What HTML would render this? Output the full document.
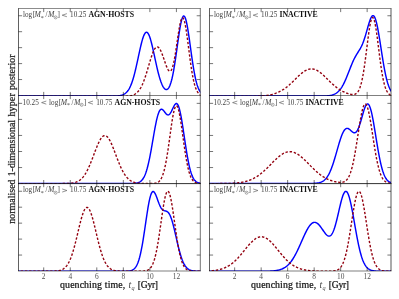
<!DOCTYPE html>
<html><head><meta charset="utf-8"><title>quenching time posterior</title>
<style>
html,body{margin:0;padding:0;background:#fff;}
body{width:399px;height:299px;overflow:hidden;position:relative;font-family:"Liberation Serif",serif;}
</style></head><body>
<svg width="399" height="299" viewBox="0 0 399 299" style="position:absolute;left:0;top:0;will-change:transform;opacity:0.999">
<defs>
<clipPath id="c00"><rect x="18.5" y="8.5" width="181.80" height="87.50"/></clipPath>
<clipPath id="c01"><rect x="209.5" y="8.5" width="181.50" height="87.50"/></clipPath>
<clipPath id="c10"><rect x="18.5" y="95.5" width="181.80" height="88.10"/></clipPath>
<clipPath id="c11"><rect x="209.5" y="95.5" width="181.50" height="88.10"/></clipPath>
<clipPath id="c20"><rect x="18.5" y="183.6" width="181.80" height="87.40"/></clipPath>
<clipPath id="c21"><rect x="209.5" y="183.6" width="181.50" height="87.40"/></clipPath>
</defs>
<g clip-path="url(#c00)" fill="none" stroke-linejoin="round">
<path d="M16.5,96.05 L17.0,96.05 L17.5,96.05 L18.0,96.05 L18.5,96.05 L19.0,96.05 L19.5,96.05 L20.0,96.05 L20.5,96.05 L21.0,96.05 L21.5,96.05 L22.0,96.05 L22.5,96.05 L23.0,96.05 L23.5,96.05 L24.0,96.05 L24.5,96.05 L25.0,96.05 L25.5,96.05 L26.0,96.05 L26.5,96.05 L27.0,96.05 L27.5,96.05 L28.0,96.05 L28.5,96.05 L29.0,96.05 L29.5,96.05 L30.0,96.05 L30.5,96.05 L31.0,96.05 L31.5,96.05 L32.0,96.05 L32.5,96.05 L33.0,96.05 L33.5,96.05 L34.0,96.05 L34.5,96.05 L35.0,96.05 L35.5,96.05 L36.0,96.05 L36.5,96.05 L37.0,96.05 L37.5,96.05 L38.0,96.05 L38.5,96.05 L39.0,96.05 L39.5,96.05 L40.0,96.05 L40.5,96.05 L41.0,96.05 L41.5,96.05 L42.0,96.05 L42.5,96.05 L43.0,96.05 L43.5,96.05 L44.0,96.05 L44.5,96.05 L45.0,96.05 L45.5,96.05 L46.0,96.05 L46.5,96.05 L47.0,96.05 L47.5,96.05 L48.0,96.05 L48.5,96.05 L49.0,96.05 L49.5,96.05 L50.0,96.05 L50.5,96.05 L51.0,96.05 L51.5,96.05 L52.0,96.05 L52.5,96.05 L53.0,96.05 L53.5,96.05 L54.0,96.05 L54.5,96.05 L55.0,96.05 L55.5,96.05 L56.0,96.05 L56.5,96.05 L57.0,96.05 L57.5,96.05 L58.0,96.05 L58.5,96.05 L59.0,96.05 L59.5,96.05 L60.0,96.05 L60.5,96.05 L61.0,96.05 L61.5,96.05 L62.0,96.05 L62.5,96.05 L63.0,96.05 L63.5,96.05 L64.0,96.05 L64.5,96.05 L65.0,96.05 L65.5,96.05 L66.0,96.05 L66.5,96.05 L67.0,96.05 L67.5,96.05 L68.0,96.05 L68.5,96.05 L69.0,96.05 L69.5,96.05 L70.0,96.05 L70.5,96.05 L71.0,96.05 L71.5,96.05 L72.0,96.05 L72.5,96.05 L73.0,96.05 L73.5,96.05 L74.0,96.05 L74.5,96.05 L75.0,96.05 L75.5,96.05 L76.0,96.05 L76.5,96.05 L77.0,96.05 L77.5,96.05 L78.0,96.05 L78.5,96.05 L79.0,96.05 L79.5,96.05 L80.0,96.05 L80.5,96.05 L81.0,96.05 L81.5,96.05 L82.0,96.05 L82.5,96.05 L83.0,96.05 L83.5,96.05 L84.0,96.05 L84.5,96.05 L85.0,96.05 L85.5,96.05 L86.0,96.05 L86.5,96.05 L87.0,96.05 L87.5,96.05 L88.0,96.05 L88.5,96.05 L89.0,96.05 L89.5,96.05 L90.0,96.05 L90.5,96.05 L91.0,96.05 L91.5,96.05 L92.0,96.05 L92.5,96.05 L93.0,96.05 L93.5,96.05 L94.0,96.05 L94.5,96.05 L95.0,96.05 L95.5,96.05 L96.0,96.05 L96.5,96.05 L97.0,96.05 L97.5,96.05 L98.0,96.05 L98.5,96.05 L99.0,96.05 L99.5,96.05 L100.0,96.05 L100.5,96.05 L101.0,96.05 L101.5,96.05 L102.0,96.05 L102.5,96.05 L103.0,96.05 L103.5,96.05 L104.0,96.05 L104.5,96.05 L105.0,96.05 L105.5,96.05 L106.0,96.05 L106.5,96.05 L107.0,96.05 L107.5,96.05 L108.0,96.05 L108.5,96.05 L109.0,96.05 L109.5,96.05 L110.0,96.05 L110.5,96.04 L111.0,96.04 L111.5,96.04 L112.0,96.04 L112.5,96.03 L113.0,96.03 L113.5,96.02 L114.0,96.02 L114.5,96.01 L115.0,96.00 L115.5,95.98 L116.0,95.96 L116.5,95.94 L117.0,95.92 L117.5,95.89 L118.0,95.85 L118.5,95.80 L119.0,95.74 L119.5,95.68 L120.0,95.60 L120.5,95.50 L121.0,95.39 L121.5,95.26 L122.0,95.11 L122.5,94.93 L123.0,94.73 L123.5,94.50 L124.0,94.24 L124.5,93.94 L125.0,93.61 L125.5,93.23 L126.0,92.81 L126.5,92.33 L127.0,91.80 L127.5,91.21 L128.0,90.56 L128.5,89.83 L129.0,89.02 L129.5,88.13 L130.0,87.15 L130.5,86.07 L131.0,84.90 L131.5,83.63 L132.0,82.25 L132.5,80.77 L133.0,79.19 L133.5,77.50 L134.0,75.71 L134.5,73.82 L135.0,71.84 L135.5,69.77 L136.0,67.63 L136.5,65.43 L137.0,63.17 L137.5,60.86 L138.0,58.53 L138.5,56.20 L139.0,53.86 L139.5,51.56 L140.0,49.30 L140.5,47.10 L141.0,44.98 L141.5,42.97 L142.0,41.08 L142.5,39.34 L143.0,37.75 L143.5,36.34 L144.0,35.11 L144.5,34.09 L145.0,33.29 L145.5,32.71 L146.0,32.36 L146.5,32.24 L147.0,32.36 L147.5,32.71 L148.0,33.29 L148.5,34.09 L149.0,35.11 L149.5,36.34 L150.0,37.75 L150.5,39.34 L151.0,41.08 L151.5,42.97 L152.0,44.98 L152.5,47.10 L153.0,49.29 L153.5,51.55 L154.0,53.86 L154.5,56.19 L155.0,58.53 L155.5,60.85 L156.0,63.15 L156.5,65.41 L157.0,67.61 L157.5,69.74 L158.0,71.80 L158.5,73.76 L159.0,75.63 L159.5,77.40 L160.0,79.05 L160.5,80.60 L161.0,82.03 L161.5,83.34 L162.0,84.53 L162.5,85.60 L163.0,86.55 L163.5,87.37 L164.0,88.07 L164.5,88.64 L165.0,89.08 L165.5,89.39 L166.0,89.56 L166.5,89.58 L167.0,89.46 L167.5,89.18 L168.0,88.75 L168.5,88.14 L169.0,87.36 L169.5,86.39 L170.0,85.23 L170.5,83.87 L171.0,82.30 L171.5,80.52 L172.0,78.53 L172.5,76.32 L173.0,73.90 L173.5,71.26 L174.0,68.43 L174.5,65.41 L175.0,62.23 L175.5,58.89 L176.0,55.44 L176.5,51.90 L177.0,48.31 L177.5,44.70 L178.0,41.11 L178.5,37.60 L179.0,34.21 L179.5,30.98 L180.0,27.96 L180.5,25.20 L181.0,22.73 L181.5,20.61 L182.0,18.85 L182.5,17.50 L183.0,16.57 L183.5,16.08 L184.0,16.03 L184.5,16.44 L185.0,17.28 L185.5,18.55 L186.0,20.23 L186.5,22.29 L187.0,24.69 L187.5,27.40 L188.0,30.37 L188.5,33.57 L189.0,36.94 L189.5,40.44 L190.0,44.02 L190.5,47.64 L191.0,51.26 L191.5,54.83 L192.0,58.33 L192.5,61.72 L193.0,64.97 L193.5,68.06 L194.0,70.98 L194.5,73.71 L195.0,76.25 L195.5,78.59 L196.0,80.73 L196.5,82.67 L197.0,84.41 L197.5,85.98 L198.0,87.37 L198.5,88.60 L199.0,89.68 L199.5,90.62 L200.0,91.45 L200.5,92.16 L201.0,92.78 L201.5,93.32 L202.0,93.78" stroke="#0000ff" stroke-width="1.45"/>
<path d="M16.5,96.45 L17.0,96.45 L17.5,96.45 L18.0,96.45 L18.5,96.45 L19.0,96.45 L19.5,96.45 L20.0,96.45 L20.5,96.45 L21.0,96.45 L21.5,96.45 L22.0,96.45 L22.5,96.45 L23.0,96.45 L23.5,96.45 L24.0,96.45 L24.5,96.45 L25.0,96.45 L25.5,96.45 L26.0,96.45 L26.5,96.45 L27.0,96.45 L27.5,96.45 L28.0,96.45 L28.5,96.45 L29.0,96.45 L29.5,96.45 L30.0,96.45 L30.5,96.45 L31.0,96.45 L31.5,96.45 L32.0,96.45 L32.5,96.45 L33.0,96.45 L33.5,96.45 L34.0,96.45 L34.5,96.45 L35.0,96.45 L35.5,96.45 L36.0,96.45 L36.5,96.45 L37.0,96.45 L37.5,96.45 L38.0,96.45 L38.5,96.45 L39.0,96.45 L39.5,96.45 L40.0,96.45 L40.5,96.45 L41.0,96.45 L41.5,96.45 L42.0,96.45 L42.5,96.45 L43.0,96.45 L43.5,96.45 L44.0,96.45 L44.5,96.45 L45.0,96.45 L45.5,96.45 L46.0,96.45 L46.5,96.45 L47.0,96.45 L47.5,96.45 L48.0,96.45 L48.5,96.45 L49.0,96.45 L49.5,96.45 L50.0,96.45 L50.5,96.45 L51.0,96.45 L51.5,96.45 L52.0,96.45 L52.5,96.45 L53.0,96.45 L53.5,96.45 L54.0,96.45 L54.5,96.45 L55.0,96.45 L55.5,96.45 L56.0,96.45 L56.5,96.45 L57.0,96.45 L57.5,96.45 L58.0,96.45 L58.5,96.45 L59.0,96.45 L59.5,96.45 L60.0,96.45 L60.5,96.45 L61.0,96.45 L61.5,96.45 L62.0,96.45 L62.5,96.45 L63.0,96.45 L63.5,96.45 L64.0,96.45 L64.5,96.45 L65.0,96.45 L65.5,96.45 L66.0,96.45 L66.5,96.45 L67.0,96.45 L67.5,96.45 L68.0,96.45 L68.5,96.45 L69.0,96.45 L69.5,96.45 L70.0,96.45 L70.5,96.45 L71.0,96.45 L71.5,96.45 L72.0,96.45 L72.5,96.45 L73.0,96.45 L73.5,96.45 L74.0,96.45 L74.5,96.45 L75.0,96.45 L75.5,96.45 L76.0,96.45 L76.5,96.45 L77.0,96.45 L77.5,96.45 L78.0,96.45 L78.5,96.45 L79.0,96.45 L79.5,96.45 L80.0,96.45 L80.5,96.45 L81.0,96.45 L81.5,96.45 L82.0,96.45 L82.5,96.45 L83.0,96.45 L83.5,96.45 L84.0,96.45 L84.5,96.45 L85.0,96.45 L85.5,96.45 L86.0,96.45 L86.5,96.45 L87.0,96.45 L87.5,96.45 L88.0,96.45 L88.5,96.45 L89.0,96.45 L89.5,96.45 L90.0,96.45 L90.5,96.45 L91.0,96.45 L91.5,96.45 L92.0,96.45 L92.5,96.45 L93.0,96.45 L93.5,96.45 L94.0,96.45 L94.5,96.45 L95.0,96.45 L95.5,96.45 L96.0,96.45 L96.5,96.45 L97.0,96.45 L97.5,96.45 L98.0,96.45 L98.5,96.45 L99.0,96.45 L99.5,96.45 L100.0,96.45 L100.5,96.45 L101.0,96.45 L101.5,96.45 L102.0,96.45 L102.5,96.45 L103.0,96.45 L103.5,96.45 L104.0,96.45 L104.5,96.45 L105.0,96.45 L105.5,96.45 L106.0,96.45 L106.5,96.45 L107.0,96.45 L107.5,96.45 L108.0,96.45 L108.5,96.45 L109.0,96.45 L109.5,96.45 L110.0,96.45 L110.5,96.45 L111.0,96.45 L111.5,96.45 L112.0,96.45 L112.5,96.45 L113.0,96.45 L113.5,96.45 L114.0,96.45 L114.5,96.45 L115.0,96.45 L115.5,96.45 L116.0,96.45 L116.5,96.45 L117.0,96.45 L117.5,96.45 L118.0,96.45 L118.5,96.45 L119.0,96.45 L119.5,96.44 L120.0,96.44 L120.5,96.44 L121.0,96.44 L121.5,96.44 L122.0,96.43 L122.5,96.43 L123.0,96.42 L123.5,96.41 L124.0,96.40 L124.5,96.39 L125.0,96.38 L125.5,96.36 L126.0,96.34 L126.5,96.32 L127.0,96.29 L127.5,96.25 L128.0,96.21 L128.5,96.15 L129.0,96.09 L129.5,96.02 L130.0,95.94 L130.5,95.84 L131.0,95.73 L131.5,95.60 L132.0,95.45 L132.5,95.28 L133.0,95.08 L133.5,94.87 L134.0,94.63 L134.5,94.36 L135.0,94.06 L135.5,93.73 L136.0,93.37 L136.5,92.98 L137.0,92.54 L137.5,92.06 L138.0,91.54 L138.5,90.97 L139.0,90.35 L139.5,89.67 L140.0,88.93 L140.5,88.13 L141.0,87.26 L141.5,86.32 L142.0,85.30 L142.5,84.22 L143.0,83.06 L143.5,81.83 L144.0,80.53 L144.5,79.16 L145.0,77.72 L145.5,76.23 L146.0,74.68 L146.5,73.08 L147.0,71.44 L147.5,69.76 L148.0,68.06 L148.5,66.35 L149.0,64.64 L149.5,62.93 L150.0,61.25 L150.5,59.60 L151.0,58.00 L151.5,56.47 L152.0,55.00 L152.5,53.62 L153.0,52.34 L153.5,51.17 L154.0,50.13 L154.5,49.21 L155.0,48.44 L155.5,47.82 L156.0,47.34 L156.5,47.03 L157.0,46.88 L157.5,46.90 L158.0,47.07 L158.5,47.41 L159.0,47.90 L159.5,48.54 L160.0,49.33 L160.5,50.25 L161.0,51.29 L161.5,52.44 L162.0,53.69 L162.5,55.02 L163.0,56.42 L163.5,57.86 L164.0,59.33 L164.5,60.81 L165.0,62.28 L165.5,63.71 L166.0,65.09 L166.5,66.39 L167.0,67.58 L167.5,68.65 L168.0,69.56 L168.5,70.30 L169.0,70.84 L169.5,71.15 L170.0,71.22 L170.5,71.03 L171.0,70.55 L171.5,69.78 L172.0,68.70 L172.5,67.31 L173.0,65.61 L173.5,63.61 L174.0,61.31 L174.5,58.73 L175.0,55.91 L175.5,52.87 L176.0,49.66 L176.5,46.32 L177.0,42.91 L177.5,39.48 L178.0,36.09 L178.5,32.82 L179.0,29.72 L179.5,26.85 L180.0,24.29 L180.5,22.09 L181.0,20.29 L181.5,18.94 L182.0,18.07 L182.5,17.71 L183.0,17.86 L183.5,18.54 L184.0,19.72 L184.5,21.39 L185.0,23.51 L185.5,26.05 L186.0,28.96 L186.5,32.19 L187.0,35.67 L187.5,39.35 L188.0,43.16 L188.5,47.05 L189.0,50.97 L189.5,54.84 L190.0,58.64 L190.5,62.31 L191.0,65.83 L191.5,69.15 L192.0,72.26 L192.5,75.15 L193.0,77.80 L193.5,80.22 L194.0,82.39 L194.5,84.34 L195.0,86.06 L195.5,87.57 L196.0,88.89 L196.5,90.04 L197.0,91.04 L197.5,91.90 L198.0,92.64 L198.5,93.28 L199.0,93.84 L199.5,94.31 L200.0,94.72 L200.5,95.06 L201.0,95.34 L201.5,95.58 L202.0,95.77" stroke="#93000f" stroke-width="1.4" stroke-dasharray="2.4 1.8"/>
</g>
<g clip-path="url(#c01)" fill="none" stroke-linejoin="round">
<path d="M207.5,96.05 L208.0,96.05 L208.5,96.05 L209.0,96.05 L209.5,96.05 L210.0,96.05 L210.5,96.05 L211.0,96.05 L211.5,96.05 L212.0,96.05 L212.5,96.05 L213.0,96.05 L213.5,96.05 L214.0,96.05 L214.5,96.05 L215.0,96.05 L215.5,96.05 L216.0,96.05 L216.5,96.05 L217.0,96.05 L217.5,96.05 L218.0,96.05 L218.5,96.05 L219.0,96.05 L219.5,96.05 L220.0,96.05 L220.5,96.05 L221.0,96.05 L221.5,96.05 L222.0,96.05 L222.5,96.05 L223.0,96.05 L223.5,96.05 L224.0,96.05 L224.5,96.05 L225.0,96.05 L225.5,96.05 L226.0,96.05 L226.5,96.05 L227.0,96.05 L227.5,96.05 L228.0,96.05 L228.5,96.05 L229.0,96.05 L229.5,96.05 L230.0,96.05 L230.5,96.05 L231.0,96.05 L231.5,96.05 L232.0,96.05 L232.5,96.05 L233.0,96.05 L233.5,96.05 L234.0,96.05 L234.5,96.05 L235.0,96.05 L235.5,96.05 L236.0,96.05 L236.5,96.05 L237.0,96.05 L237.5,96.05 L238.0,96.05 L238.5,96.05 L239.0,96.05 L239.5,96.05 L240.0,96.05 L240.5,96.05 L241.0,96.05 L241.5,96.05 L242.0,96.05 L242.5,96.05 L243.0,96.05 L243.5,96.05 L244.0,96.05 L244.5,96.05 L245.0,96.05 L245.5,96.05 L246.0,96.05 L246.5,96.05 L247.0,96.05 L247.5,96.05 L248.0,96.05 L248.5,96.05 L249.0,96.05 L249.5,96.05 L250.0,96.05 L250.5,96.05 L251.0,96.05 L251.5,96.05 L252.0,96.05 L252.5,96.05 L253.0,96.05 L253.5,96.05 L254.0,96.05 L254.5,96.05 L255.0,96.05 L255.5,96.05 L256.0,96.05 L256.5,96.05 L257.0,96.05 L257.5,96.05 L258.0,96.05 L258.5,96.05 L259.0,96.05 L259.5,96.05 L260.0,96.05 L260.5,96.05 L261.0,96.05 L261.5,96.05 L262.0,96.05 L262.5,96.05 L263.0,96.05 L263.5,96.05 L264.0,96.05 L264.5,96.05 L265.0,96.05 L265.5,96.05 L266.0,96.05 L266.5,96.05 L267.0,96.05 L267.5,96.05 L268.0,96.05 L268.5,96.05 L269.0,96.05 L269.5,96.05 L270.0,96.05 L270.5,96.05 L271.0,96.05 L271.5,96.05 L272.0,96.05 L272.5,96.05 L273.0,96.05 L273.5,96.05 L274.0,96.05 L274.5,96.05 L275.0,96.05 L275.5,96.05 L276.0,96.05 L276.5,96.05 L277.0,96.05 L277.5,96.05 L278.0,96.05 L278.5,96.05 L279.0,96.05 L279.5,96.05 L280.0,96.05 L280.5,96.05 L281.0,96.05 L281.5,96.05 L282.0,96.05 L282.5,96.05 L283.0,96.05 L283.5,96.05 L284.0,96.05 L284.5,96.05 L285.0,96.05 L285.5,96.05 L286.0,96.05 L286.5,96.05 L287.0,96.05 L287.5,96.05 L288.0,96.05 L288.5,96.05 L289.0,96.05 L289.5,96.05 L290.0,96.05 L290.5,96.05 L291.0,96.05 L291.5,96.05 L292.0,96.05 L292.5,96.05 L293.0,96.05 L293.5,96.05 L294.0,96.05 L294.5,96.05 L295.0,96.05 L295.5,96.05 L296.0,96.05 L296.5,96.05 L297.0,96.05 L297.5,96.05 L298.0,96.05 L298.5,96.05 L299.0,96.05 L299.5,96.05 L300.0,96.05 L300.5,96.05 L301.0,96.05 L301.5,96.05 L302.0,96.05 L302.5,96.05 L303.0,96.05 L303.5,96.05 L304.0,96.05 L304.5,96.05 L305.0,96.05 L305.5,96.05 L306.0,96.05 L306.5,96.05 L307.0,96.05 L307.5,96.05 L308.0,96.05 L308.5,96.05 L309.0,96.05 L309.5,96.05 L310.0,96.05 L310.5,96.05 L311.0,96.05 L311.5,96.05 L312.0,96.05 L312.5,96.05 L313.0,96.05 L313.5,96.05 L314.0,96.05 L314.5,96.05 L315.0,96.05 L315.5,96.05 L316.0,96.05 L316.5,96.05 L317.0,96.05 L317.5,96.05 L318.0,96.05 L318.5,96.04 L319.0,96.04 L319.5,96.04 L320.0,96.04 L320.5,96.04 L321.0,96.03 L321.5,96.03 L322.0,96.02 L322.5,96.02 L323.0,96.01 L323.5,96.00 L324.0,95.99 L324.5,95.98 L325.0,95.96 L325.5,95.94 L326.0,95.92 L326.5,95.90 L327.0,95.86 L327.5,95.83 L328.0,95.79 L328.5,95.74 L329.0,95.68 L329.5,95.61 L330.0,95.53 L330.5,95.44 L331.0,95.34 L331.5,95.23 L332.0,95.10 L332.5,94.95 L333.0,94.78 L333.5,94.60 L334.0,94.39 L334.5,94.17 L335.0,93.91 L335.5,93.63 L336.0,93.33 L336.5,92.99 L337.0,92.63 L337.5,92.23 L338.0,91.79 L338.5,91.32 L339.0,90.80 L339.5,90.25 L340.0,89.65 L340.5,89.00 L341.0,88.30 L341.5,87.56 L342.0,86.77 L342.5,85.92 L343.0,85.03 L343.5,84.08 L344.0,83.09 L344.5,82.06 L345.0,80.97 L345.5,79.85 L346.0,78.69 L346.5,77.50 L347.0,76.27 L347.5,75.03 L348.0,73.76 L348.5,72.49 L349.0,71.20 L349.5,69.92 L350.0,68.64 L350.5,67.37 L351.0,66.12 L351.5,64.90 L352.0,63.70 L352.5,62.54 L353.0,61.41 L353.5,60.32 L354.0,59.28 L354.5,58.28 L355.0,57.32 L355.5,56.40 L356.0,55.52 L356.5,54.67 L357.0,53.85 L357.5,53.05 L358.0,52.26 L358.5,51.47 L359.0,50.68 L359.5,49.87 L360.0,49.02 L360.5,48.14 L361.0,47.21 L361.5,46.21 L362.0,45.14 L362.5,44.00 L363.0,42.77 L363.5,41.46 L364.0,40.06 L364.5,38.57 L365.0,37.00 L365.5,35.36 L366.0,33.66 L366.5,31.91 L367.0,30.13 L367.5,28.34 L368.0,26.57 L368.5,24.84 L369.0,23.17 L369.5,21.61 L370.0,20.16 L370.5,18.87 L371.0,17.76 L371.5,16.85 L372.0,16.18 L372.5,15.76 L373.0,15.61 L373.5,15.74 L374.0,16.16 L374.5,16.89 L375.0,17.92 L375.5,19.24 L376.0,20.85 L376.5,22.73 L377.0,24.87 L377.5,27.24 L378.0,29.82 L378.5,32.59 L379.0,35.51 L379.5,38.56 L380.0,41.70 L380.5,44.90 L381.0,48.13 L381.5,51.36 L382.0,54.56 L382.5,57.71 L383.0,60.78 L383.5,63.75 L384.0,66.61 L384.5,69.33 L385.0,71.91 L385.5,74.34 L386.0,76.61 L386.5,78.72 L387.0,80.66 L387.5,82.44 L388.0,84.06 L388.5,85.53 L389.0,86.86 L389.5,88.04 L390.0,89.10 L390.5,90.04 L391.0,90.87 L391.5,91.60 L392.0,92.24 L392.5,92.80 L393.0,93.29" stroke="#0000ff" stroke-width="1.45"/>
<path d="M207.5,96.45 L208.0,96.45 L208.5,96.45 L209.0,96.45 L209.5,96.45 L210.0,96.45 L210.5,96.45 L211.0,96.45 L211.5,96.45 L212.0,96.45 L212.5,96.45 L213.0,96.45 L213.5,96.45 L214.0,96.45 L214.5,96.45 L215.0,96.45 L215.5,96.45 L216.0,96.45 L216.5,96.45 L217.0,96.45 L217.5,96.45 L218.0,96.45 L218.5,96.45 L219.0,96.45 L219.5,96.45 L220.0,96.45 L220.5,96.45 L221.0,96.45 L221.5,96.45 L222.0,96.45 L222.5,96.45 L223.0,96.45 L223.5,96.45 L224.0,96.45 L224.5,96.45 L225.0,96.45 L225.5,96.45 L226.0,96.45 L226.5,96.45 L227.0,96.45 L227.5,96.45 L228.0,96.45 L228.5,96.45 L229.0,96.45 L229.5,96.45 L230.0,96.45 L230.5,96.45 L231.0,96.45 L231.5,96.45 L232.0,96.45 L232.5,96.45 L233.0,96.45 L233.5,96.45 L234.0,96.45 L234.5,96.45 L235.0,96.45 L235.5,96.45 L236.0,96.45 L236.5,96.45 L237.0,96.45 L237.5,96.45 L238.0,96.45 L238.5,96.45 L239.0,96.45 L239.5,96.45 L240.0,96.45 L240.5,96.45 L241.0,96.45 L241.5,96.45 L242.0,96.44 L242.5,96.44 L243.0,96.44 L243.5,96.44 L244.0,96.44 L244.5,96.44 L245.0,96.44 L245.5,96.44 L246.0,96.44 L246.5,96.43 L247.0,96.43 L247.5,96.43 L248.0,96.43 L248.5,96.42 L249.0,96.42 L249.5,96.42 L250.0,96.41 L250.5,96.41 L251.0,96.40 L251.5,96.40 L252.0,96.39 L252.5,96.39 L253.0,96.38 L253.5,96.37 L254.0,96.36 L254.5,96.35 L255.0,96.34 L255.5,96.33 L256.0,96.32 L256.5,96.30 L257.0,96.29 L257.5,96.27 L258.0,96.25 L258.5,96.23 L259.0,96.21 L259.5,96.18 L260.0,96.16 L260.5,96.13 L261.0,96.10 L261.5,96.06 L262.0,96.03 L262.5,95.99 L263.0,95.94 L263.5,95.90 L264.0,95.85 L264.5,95.79 L265.0,95.74 L265.5,95.68 L266.0,95.61 L266.5,95.54 L267.0,95.47 L267.5,95.39 L268.0,95.30 L268.5,95.21 L269.0,95.12 L269.5,95.02 L270.0,94.92 L270.5,94.80 L271.0,94.69 L271.5,94.56 L272.0,94.44 L272.5,94.30 L273.0,94.16 L273.5,94.01 L274.0,93.86 L274.5,93.69 L275.0,93.53 L275.5,93.35 L276.0,93.17 L276.5,92.97 L277.0,92.78 L277.5,92.57 L278.0,92.35 L278.5,92.13 L279.0,91.90 L279.5,91.66 L280.0,91.41 L280.5,91.15 L281.0,90.88 L281.5,90.60 L282.0,90.31 L282.5,90.01 L283.0,89.70 L283.5,89.38 L284.0,89.05 L284.5,88.70 L285.0,88.35 L285.5,87.99 L286.0,87.62 L286.5,87.23 L287.0,86.84 L287.5,86.43 L288.0,86.02 L288.5,85.60 L289.0,85.17 L289.5,84.73 L290.0,84.28 L290.5,83.82 L291.0,83.36 L291.5,82.89 L292.0,82.42 L292.5,81.94 L293.0,81.45 L293.5,80.96 L294.0,80.47 L294.5,79.98 L295.0,79.49 L295.5,78.99 L296.0,78.50 L296.5,78.01 L297.0,77.52 L297.5,77.03 L298.0,76.55 L298.5,76.08 L299.0,75.61 L299.5,75.15 L300.0,74.70 L300.5,74.26 L301.0,73.83 L301.5,73.41 L302.0,73.00 L302.5,72.61 L303.0,72.24 L303.5,71.88 L304.0,71.53 L304.5,71.21 L305.0,70.90 L305.5,70.62 L306.0,70.35 L306.5,70.11 L307.0,69.88 L307.5,69.68 L308.0,69.50 L308.5,69.35 L309.0,69.22 L309.5,69.11 L310.0,69.03 L310.5,68.97 L311.0,68.94 L311.5,68.93 L312.0,68.95 L312.5,68.99 L313.0,69.06 L313.5,69.15 L314.0,69.27 L314.5,69.41 L315.0,69.57 L315.5,69.76 L316.0,69.97 L316.5,70.20 L317.0,70.46 L317.5,70.73 L318.0,71.02 L318.5,71.34 L319.0,71.67 L319.5,72.02 L320.0,72.38 L320.5,72.77 L321.0,73.16 L321.5,73.57 L322.0,74.00 L322.5,74.43 L323.0,74.88 L323.5,75.33 L324.0,75.79 L324.5,76.27 L325.0,76.74 L325.5,77.23 L326.0,77.71 L326.5,78.20 L327.0,78.69 L327.5,79.19 L328.0,79.68 L328.5,80.18 L329.0,80.67 L329.5,81.16 L330.0,81.65 L330.5,82.13 L331.0,82.61 L331.5,83.08 L332.0,83.55 L332.5,84.01 L333.0,84.46 L333.5,84.90 L334.0,85.34 L334.5,85.77 L335.0,86.19 L335.5,86.60 L336.0,87.00 L336.5,87.39 L337.0,87.77 L337.5,88.13 L338.0,88.49 L338.5,88.84 L339.0,89.18 L339.5,89.51 L340.0,89.82 L340.5,90.13 L341.0,90.42 L341.5,90.71 L342.0,90.98 L342.5,91.25 L343.0,91.51 L343.5,91.75 L344.0,91.99 L344.5,92.22 L345.0,92.44 L345.5,92.65 L346.0,92.85 L346.5,93.05 L347.0,93.23 L347.5,93.41 L348.0,93.58 L348.5,93.74 L349.0,93.89 L349.5,94.03 L350.0,94.16 L350.5,94.27 L351.0,94.38 L351.5,94.46 L352.0,94.52 L352.5,94.56 L353.0,94.58 L353.5,94.55 L354.0,94.49 L354.5,94.38 L355.0,94.22 L355.5,93.99 L356.0,93.69 L356.5,93.32 L357.0,92.86 L357.5,92.29 L358.0,91.62 L358.5,90.83 L359.0,89.89 L359.5,88.78 L360.0,87.50 L360.5,86.02 L361.0,84.32 L361.5,82.39 L362.0,80.22 L362.5,77.80 L363.0,75.13 L363.5,72.21 L364.0,69.06 L364.5,65.68 L365.0,62.10 L365.5,58.35 L366.0,54.47 L366.5,50.51 L367.0,46.51 L367.5,42.54 L368.0,38.65 L368.5,34.90 L369.0,31.37 L369.5,28.13 L370.0,25.22 L370.5,22.70 L371.0,20.64 L371.5,19.07 L372.0,18.02 L372.5,17.52 L373.0,17.58 L373.5,18.20 L374.0,19.36 L374.5,21.03 L375.0,23.20 L375.5,25.80 L376.0,28.79 L376.5,32.10 L377.0,35.69 L377.5,39.47 L378.0,43.39 L378.5,47.39 L379.0,51.39 L379.5,55.35 L380.0,59.22 L380.5,62.95 L381.0,66.50 L381.5,69.85 L382.0,72.98 L382.5,75.87 L383.0,78.50 L383.5,80.89 L384.0,83.04 L384.5,84.94 L385.0,86.62 L385.5,88.09 L386.0,89.37 L386.5,90.47 L387.0,91.43 L387.5,92.25 L388.0,92.95 L388.5,93.56 L389.0,94.09 L389.5,94.53 L390.0,94.91 L390.5,95.23 L391.0,95.49 L391.5,95.70 L392.0,95.87 L392.5,96.01 L393.0,96.12" stroke="#93000f" stroke-width="1.4" stroke-dasharray="2.4 1.8"/>
</g>
<g clip-path="url(#c10)" fill="none" stroke-linejoin="round">
<path d="M16.5,183.45 L17.0,183.45 L17.5,183.45 L18.0,183.45 L18.5,183.45 L19.0,183.45 L19.5,183.45 L20.0,183.45 L20.5,183.45 L21.0,183.45 L21.5,183.45 L22.0,183.45 L22.5,183.45 L23.0,183.45 L23.5,183.45 L24.0,183.45 L24.5,183.45 L25.0,183.45 L25.5,183.45 L26.0,183.45 L26.5,183.45 L27.0,183.45 L27.5,183.45 L28.0,183.45 L28.5,183.45 L29.0,183.45 L29.5,183.45 L30.0,183.45 L30.5,183.45 L31.0,183.45 L31.5,183.45 L32.0,183.45 L32.5,183.45 L33.0,183.45 L33.5,183.45 L34.0,183.45 L34.5,183.45 L35.0,183.45 L35.5,183.45 L36.0,183.45 L36.5,183.45 L37.0,183.45 L37.5,183.45 L38.0,183.45 L38.5,183.45 L39.0,183.45 L39.5,183.45 L40.0,183.45 L40.5,183.45 L41.0,183.45 L41.5,183.45 L42.0,183.45 L42.5,183.45 L43.0,183.45 L43.5,183.45 L44.0,183.45 L44.5,183.45 L45.0,183.45 L45.5,183.45 L46.0,183.45 L46.5,183.45 L47.0,183.45 L47.5,183.45 L48.0,183.45 L48.5,183.45 L49.0,183.45 L49.5,183.45 L50.0,183.45 L50.5,183.45 L51.0,183.45 L51.5,183.45 L52.0,183.45 L52.5,183.45 L53.0,183.45 L53.5,183.45 L54.0,183.45 L54.5,183.45 L55.0,183.45 L55.5,183.45 L56.0,183.45 L56.5,183.45 L57.0,183.45 L57.5,183.45 L58.0,183.45 L58.5,183.45 L59.0,183.45 L59.5,183.45 L60.0,183.45 L60.5,183.45 L61.0,183.45 L61.5,183.45 L62.0,183.45 L62.5,183.45 L63.0,183.45 L63.5,183.45 L64.0,183.45 L64.5,183.45 L65.0,183.45 L65.5,183.45 L66.0,183.45 L66.5,183.45 L67.0,183.45 L67.5,183.45 L68.0,183.45 L68.5,183.45 L69.0,183.45 L69.5,183.45 L70.0,183.45 L70.5,183.45 L71.0,183.45 L71.5,183.45 L72.0,183.45 L72.5,183.45 L73.0,183.45 L73.5,183.45 L74.0,183.45 L74.5,183.45 L75.0,183.45 L75.5,183.45 L76.0,183.45 L76.5,183.45 L77.0,183.45 L77.5,183.45 L78.0,183.45 L78.5,183.45 L79.0,183.45 L79.5,183.45 L80.0,183.45 L80.5,183.45 L81.0,183.45 L81.5,183.45 L82.0,183.45 L82.5,183.45 L83.0,183.45 L83.5,183.45 L84.0,183.45 L84.5,183.45 L85.0,183.45 L85.5,183.45 L86.0,183.45 L86.5,183.45 L87.0,183.45 L87.5,183.45 L88.0,183.45 L88.5,183.45 L89.0,183.45 L89.5,183.45 L90.0,183.45 L90.5,183.45 L91.0,183.45 L91.5,183.45 L92.0,183.45 L92.5,183.45 L93.0,183.45 L93.5,183.45 L94.0,183.45 L94.5,183.45 L95.0,183.45 L95.5,183.45 L96.0,183.45 L96.5,183.45 L97.0,183.45 L97.5,183.45 L98.0,183.45 L98.5,183.45 L99.0,183.45 L99.5,183.45 L100.0,183.45 L100.5,183.45 L101.0,183.45 L101.5,183.45 L102.0,183.45 L102.5,183.45 L103.0,183.45 L103.5,183.45 L104.0,183.45 L104.5,183.45 L105.0,183.45 L105.5,183.45 L106.0,183.45 L106.5,183.45 L107.0,183.45 L107.5,183.45 L108.0,183.45 L108.5,183.45 L109.0,183.45 L109.5,183.45 L110.0,183.45 L110.5,183.45 L111.0,183.45 L111.5,183.45 L112.0,183.45 L112.5,183.45 L113.0,183.45 L113.5,183.45 L114.0,183.45 L114.5,183.45 L115.0,183.45 L115.5,183.45 L116.0,183.45 L116.5,183.45 L117.0,183.45 L117.5,183.45 L118.0,183.45 L118.5,183.45 L119.0,183.45 L119.5,183.45 L120.0,183.45 L120.5,183.45 L121.0,183.45 L121.5,183.45 L122.0,183.45 L122.5,183.45 L123.0,183.45 L123.5,183.45 L124.0,183.45 L124.5,183.45 L125.0,183.45 L125.5,183.45 L126.0,183.45 L126.5,183.45 L127.0,183.45 L127.5,183.45 L128.0,183.44 L128.5,183.44 L129.0,183.44 L129.5,183.44 L130.0,183.43 L130.5,183.43 L131.0,183.42 L131.5,183.41 L132.0,183.40 L132.5,183.39 L133.0,183.37 L133.5,183.35 L134.0,183.32 L134.5,183.29 L135.0,183.25 L135.5,183.20 L136.0,183.13 L136.5,183.06 L137.0,182.96 L137.5,182.85 L138.0,182.71 L138.5,182.54 L139.0,182.34 L139.5,182.10 L140.0,181.81 L140.5,181.48 L141.0,181.08 L141.5,180.62 L142.0,180.09 L142.5,179.48 L143.0,178.78 L143.5,177.98 L144.0,177.07 L144.5,176.06 L145.0,174.92 L145.5,173.66 L146.0,172.26 L146.5,170.73 L147.0,169.06 L147.5,167.24 L148.0,165.28 L148.5,163.18 L149.0,160.94 L149.5,158.57 L150.0,156.08 L150.5,153.47 L151.0,150.76 L151.5,147.97 L152.0,145.11 L152.5,142.22 L153.0,139.30 L153.5,136.39 L154.0,133.50 L154.5,130.68 L155.0,127.93 L155.5,125.30 L156.0,122.81 L156.5,120.47 L157.0,118.32 L157.5,116.38 L158.0,114.65 L158.5,113.15 L159.0,111.90 L159.5,110.89 L160.0,110.13 L160.5,109.60 L161.0,109.30 L161.5,109.21 L162.0,109.32 L162.5,109.59 L163.0,110.01 L163.5,110.54 L164.0,111.14 L164.5,111.79 L165.0,112.45 L165.5,113.09 L166.0,113.67 L166.5,114.17 L167.0,114.55 L167.5,114.81 L168.0,114.91 L168.5,114.85 L169.0,114.62 L169.5,114.22 L170.0,113.66 L170.5,112.95 L171.0,112.12 L171.5,111.17 L172.0,110.15 L172.5,109.08 L173.0,108.01 L173.5,106.96 L174.0,105.99 L174.5,105.13 L175.0,104.42 L175.5,103.89 L176.0,103.59 L176.5,103.53 L177.0,103.74 L177.5,104.25 L178.0,105.05 L178.5,106.17 L179.0,107.60 L179.5,109.32 L180.0,111.34 L180.5,113.63 L181.0,116.17 L181.5,118.93 L182.0,121.89 L182.5,125.00 L183.0,128.23 L183.5,131.54 L184.0,134.91 L184.5,138.30 L185.0,141.66 L185.5,144.98 L186.0,148.22 L186.5,151.35 L187.0,154.36 L187.5,157.23 L188.0,159.95 L188.5,162.49 L189.0,164.86 L189.5,167.05 L190.0,169.07 L190.5,170.90 L191.0,172.56 L191.5,174.06 L192.0,175.39 L192.5,176.58 L193.0,177.63 L193.5,178.54 L194.0,179.34 L194.5,180.02 L195.0,180.61 L195.5,181.11 L196.0,181.53 L196.5,181.89 L197.0,182.18 L197.5,182.43 L198.0,182.63 L198.5,182.80 L199.0,182.93 L199.5,183.04 L200.0,183.13 L200.5,183.20 L201.0,183.25 L201.5,183.30 L202.0,183.33" stroke="#0000ff" stroke-width="1.45"/>
<path d="M16.5,183.60 L17.0,183.60 L17.5,183.60 L18.0,183.60 L18.5,183.60 L19.0,183.60 L19.5,183.60 L20.0,183.60 L20.5,183.60 L21.0,183.60 L21.5,183.60 L22.0,183.60 L22.5,183.60 L23.0,183.60 L23.5,183.60 L24.0,183.60 L24.5,183.60 L25.0,183.60 L25.5,183.60 L26.0,183.60 L26.5,183.60 L27.0,183.60 L27.5,183.60 L28.0,183.60 L28.5,183.60 L29.0,183.60 L29.5,183.60 L30.0,183.60 L30.5,183.60 L31.0,183.60 L31.5,183.60 L32.0,183.60 L32.5,183.60 L33.0,183.60 L33.5,183.60 L34.0,183.60 L34.5,183.60 L35.0,183.60 L35.5,183.60 L36.0,183.60 L36.5,183.60 L37.0,183.60 L37.5,183.60 L38.0,183.60 L38.5,183.60 L39.0,183.60 L39.5,183.60 L40.0,183.60 L40.5,183.60 L41.0,183.60 L41.5,183.60 L42.0,183.60 L42.5,183.60 L43.0,183.60 L43.5,183.60 L44.0,183.60 L44.5,183.60 L45.0,183.60 L45.5,183.60 L46.0,183.60 L46.5,183.60 L47.0,183.60 L47.5,183.60 L48.0,183.60 L48.5,183.60 L49.0,183.60 L49.5,183.60 L50.0,183.60 L50.5,183.60 L51.0,183.60 L51.5,183.60 L52.0,183.60 L52.5,183.60 L53.0,183.60 L53.5,183.60 L54.0,183.60 L54.5,183.60 L55.0,183.60 L55.5,183.60 L56.0,183.60 L56.5,183.60 L57.0,183.60 L57.5,183.60 L58.0,183.60 L58.5,183.59 L59.0,183.59 L59.5,183.59 L60.0,183.59 L60.5,183.59 L61.0,183.59 L61.5,183.58 L62.0,183.58 L62.5,183.57 L63.0,183.57 L63.5,183.56 L64.0,183.56 L64.5,183.55 L65.0,183.54 L65.5,183.53 L66.0,183.51 L66.5,183.50 L67.0,183.48 L67.5,183.46 L68.0,183.44 L68.5,183.41 L69.0,183.38 L69.5,183.35 L70.0,183.31 L70.5,183.26 L71.0,183.21 L71.5,183.15 L72.0,183.08 L72.5,183.01 L73.0,182.92 L73.5,182.82 L74.0,182.71 L74.5,182.59 L75.0,182.46 L75.5,182.31 L76.0,182.14 L76.5,181.95 L77.0,181.74 L77.5,181.52 L78.0,181.26 L78.5,180.99 L79.0,180.69 L79.5,180.36 L80.0,179.99 L80.5,179.60 L81.0,179.18 L81.5,178.72 L82.0,178.22 L82.5,177.68 L83.0,177.11 L83.5,176.49 L84.0,175.83 L84.5,175.13 L85.0,174.38 L85.5,173.59 L86.0,172.76 L86.5,171.88 L87.0,170.95 L87.5,169.98 L88.0,168.97 L88.5,167.92 L89.0,166.82 L89.5,165.68 L90.0,164.51 L90.5,163.31 L91.0,162.07 L91.5,160.81 L92.0,159.52 L92.5,158.22 L93.0,156.90 L93.5,155.57 L94.0,154.23 L94.5,152.90 L95.0,151.57 L95.5,150.26 L96.0,148.96 L96.5,147.69 L97.0,146.46 L97.5,145.26 L98.0,144.10 L98.5,143.00 L99.0,141.95 L99.5,140.97 L100.0,140.05 L100.5,139.21 L101.0,138.45 L101.5,137.77 L102.0,137.18 L102.5,136.67 L103.0,136.27 L103.5,135.96 L104.0,135.75 L104.5,135.64 L105.0,135.63 L105.5,135.72 L106.0,135.91 L106.5,136.20 L107.0,136.59 L107.5,137.07 L108.0,137.64 L108.5,138.30 L109.0,139.05 L109.5,139.88 L110.0,140.78 L110.5,141.75 L111.0,142.79 L111.5,143.88 L112.0,145.02 L112.5,146.21 L113.0,147.44 L113.5,148.71 L114.0,150.00 L114.5,151.31 L115.0,152.63 L115.5,153.96 L116.0,155.30 L116.5,156.63 L117.0,157.95 L117.5,159.26 L118.0,160.55 L118.5,161.82 L119.0,163.06 L119.5,164.27 L120.0,165.45 L120.5,166.60 L121.0,167.70 L121.5,168.76 L122.0,169.78 L122.5,170.76 L123.0,171.70 L123.5,172.59 L124.0,173.43 L124.5,174.23 L125.0,174.98 L125.5,175.69 L126.0,176.36 L126.5,176.99 L127.0,177.57 L127.5,178.11 L128.0,178.62 L128.5,179.09 L129.0,179.52 L129.5,179.92 L130.0,180.29 L130.5,180.62 L131.0,180.93 L131.5,181.21 L132.0,181.47 L132.5,181.70 L133.0,181.91 L133.5,182.10 L134.0,182.27 L134.5,182.43 L135.0,182.57 L135.5,182.69 L136.0,182.80 L136.5,182.90 L137.0,182.99 L137.5,183.07 L138.0,183.14 L138.5,183.20 L139.0,183.25 L139.5,183.30 L140.0,183.34 L140.5,183.38 L141.0,183.41 L141.5,183.43 L142.0,183.46 L142.5,183.48 L143.0,183.50 L143.5,183.51 L144.0,183.53 L144.5,183.54 L145.0,183.55 L145.5,183.55 L146.0,183.56 L146.5,183.57 L147.0,183.57 L147.5,183.57 L148.0,183.58 L148.5,183.58 L149.0,183.58 L149.5,183.57 L150.0,183.57 L150.5,183.56 L151.0,183.56 L151.5,183.54 L152.0,183.53 L152.5,183.51 L153.0,183.48 L153.5,183.44 L154.0,183.39 L154.5,183.33 L155.0,183.25 L155.5,183.16 L156.0,183.03 L156.5,182.88 L157.0,182.69 L157.5,182.46 L158.0,182.18 L158.5,181.84 L159.0,181.43 L159.5,180.95 L160.0,180.37 L160.5,179.69 L161.0,178.89 L161.5,177.97 L162.0,176.90 L162.5,175.68 L163.0,174.30 L163.5,172.73 L164.0,170.97 L164.5,169.02 L165.0,166.87 L165.5,164.51 L166.0,161.94 L166.5,159.18 L167.0,156.22 L167.5,153.09 L168.0,149.80 L168.5,146.38 L169.0,142.86 L169.5,139.26 L170.0,135.63 L170.5,132.01 L171.0,128.44 L171.5,124.97 L172.0,121.66 L172.5,118.54 L173.0,115.66 L173.5,113.08 L174.0,110.84 L174.5,108.96 L175.0,107.49 L175.5,106.45 L176.0,105.85 L176.5,105.71 L177.0,106.04 L177.5,106.81 L178.0,108.03 L178.5,109.67 L179.0,111.69 L179.5,114.08 L180.0,116.78 L180.5,119.76 L181.0,122.96 L181.5,126.34 L182.0,129.86 L182.5,133.45 L183.0,137.08 L183.5,140.70 L184.0,144.28 L184.5,147.77 L185.0,151.14 L185.5,154.37 L186.0,157.43 L186.5,160.31 L187.0,162.99 L187.5,165.48 L188.0,167.75 L188.5,169.83 L189.0,171.70 L189.5,173.38 L190.0,174.87 L190.5,176.19 L191.0,177.35 L191.5,178.36 L192.0,179.23 L192.5,179.98 L193.0,180.61 L193.5,181.15 L194.0,181.61 L194.5,181.99 L195.0,182.30 L195.5,182.56 L196.0,182.77 L196.5,182.95 L197.0,183.09 L197.5,183.20 L198.0,183.29 L198.5,183.36 L199.0,183.42 L199.5,183.46 L200.0,183.49 L200.5,183.52 L201.0,183.54 L201.5,183.55 L202.0,183.57" stroke="#93000f" stroke-width="1.4" stroke-dasharray="2.4 1.8"/>
</g>
<g clip-path="url(#c11)" fill="none" stroke-linejoin="round">
<path d="M207.5,183.45 L208.0,183.45 L208.5,183.45 L209.0,183.45 L209.5,183.45 L210.0,183.45 L210.5,183.45 L211.0,183.45 L211.5,183.45 L212.0,183.45 L212.5,183.45 L213.0,183.45 L213.5,183.45 L214.0,183.45 L214.5,183.45 L215.0,183.45 L215.5,183.45 L216.0,183.45 L216.5,183.45 L217.0,183.45 L217.5,183.45 L218.0,183.45 L218.5,183.45 L219.0,183.45 L219.5,183.45 L220.0,183.45 L220.5,183.45 L221.0,183.45 L221.5,183.45 L222.0,183.45 L222.5,183.45 L223.0,183.45 L223.5,183.45 L224.0,183.45 L224.5,183.45 L225.0,183.45 L225.5,183.45 L226.0,183.45 L226.5,183.45 L227.0,183.45 L227.5,183.45 L228.0,183.45 L228.5,183.45 L229.0,183.45 L229.5,183.45 L230.0,183.45 L230.5,183.45 L231.0,183.45 L231.5,183.45 L232.0,183.45 L232.5,183.45 L233.0,183.45 L233.5,183.45 L234.0,183.45 L234.5,183.45 L235.0,183.45 L235.5,183.45 L236.0,183.45 L236.5,183.45 L237.0,183.45 L237.5,183.45 L238.0,183.45 L238.5,183.45 L239.0,183.45 L239.5,183.45 L240.0,183.45 L240.5,183.45 L241.0,183.45 L241.5,183.45 L242.0,183.45 L242.5,183.45 L243.0,183.45 L243.5,183.45 L244.0,183.45 L244.5,183.45 L245.0,183.45 L245.5,183.45 L246.0,183.45 L246.5,183.45 L247.0,183.45 L247.5,183.45 L248.0,183.45 L248.5,183.45 L249.0,183.45 L249.5,183.45 L250.0,183.45 L250.5,183.45 L251.0,183.45 L251.5,183.45 L252.0,183.45 L252.5,183.45 L253.0,183.45 L253.5,183.45 L254.0,183.45 L254.5,183.45 L255.0,183.45 L255.5,183.45 L256.0,183.45 L256.5,183.45 L257.0,183.45 L257.5,183.45 L258.0,183.45 L258.5,183.45 L259.0,183.45 L259.5,183.45 L260.0,183.45 L260.5,183.45 L261.0,183.45 L261.5,183.45 L262.0,183.45 L262.5,183.45 L263.0,183.45 L263.5,183.45 L264.0,183.45 L264.5,183.45 L265.0,183.45 L265.5,183.45 L266.0,183.45 L266.5,183.45 L267.0,183.45 L267.5,183.45 L268.0,183.45 L268.5,183.45 L269.0,183.45 L269.5,183.45 L270.0,183.45 L270.5,183.45 L271.0,183.45 L271.5,183.45 L272.0,183.45 L272.5,183.45 L273.0,183.45 L273.5,183.45 L274.0,183.45 L274.5,183.45 L275.0,183.45 L275.5,183.45 L276.0,183.45 L276.5,183.45 L277.0,183.45 L277.5,183.45 L278.0,183.45 L278.5,183.45 L279.0,183.45 L279.5,183.45 L280.0,183.45 L280.5,183.45 L281.0,183.45 L281.5,183.45 L282.0,183.45 L282.5,183.45 L283.0,183.45 L283.5,183.45 L284.0,183.45 L284.5,183.45 L285.0,183.45 L285.5,183.45 L286.0,183.45 L286.5,183.45 L287.0,183.45 L287.5,183.45 L288.0,183.45 L288.5,183.45 L289.0,183.45 L289.5,183.45 L290.0,183.45 L290.5,183.45 L291.0,183.45 L291.5,183.45 L292.0,183.45 L292.5,183.45 L293.0,183.45 L293.5,183.45 L294.0,183.45 L294.5,183.45 L295.0,183.45 L295.5,183.45 L296.0,183.45 L296.5,183.45 L297.0,183.45 L297.5,183.45 L298.0,183.45 L298.5,183.45 L299.0,183.45 L299.5,183.45 L300.0,183.45 L300.5,183.45 L301.0,183.45 L301.5,183.45 L302.0,183.45 L302.5,183.45 L303.0,183.45 L303.5,183.45 L304.0,183.45 L304.5,183.45 L305.0,183.45 L305.5,183.45 L306.0,183.45 L306.5,183.44 L307.0,183.44 L307.5,183.44 L308.0,183.44 L308.5,183.44 L309.0,183.43 L309.5,183.43 L310.0,183.42 L310.5,183.42 L311.0,183.41 L311.5,183.40 L312.0,183.39 L312.5,183.38 L313.0,183.37 L313.5,183.35 L314.0,183.33 L314.5,183.30 L315.0,183.27 L315.5,183.24 L316.0,183.20 L316.5,183.15 L317.0,183.09 L317.5,183.03 L318.0,182.95 L318.5,182.86 L319.0,182.76 L319.5,182.64 L320.0,182.50 L320.5,182.35 L321.0,182.17 L321.5,181.96 L322.0,181.73 L322.5,181.47 L323.0,181.17 L323.5,180.84 L324.0,180.46 L324.5,180.05 L325.0,179.58 L325.5,179.07 L326.0,178.51 L326.5,177.89 L327.0,177.21 L327.5,176.47 L328.0,175.67 L328.5,174.80 L329.0,173.87 L329.5,172.87 L330.0,171.80 L330.5,170.66 L331.0,169.45 L331.5,168.17 L332.0,166.83 L332.5,165.42 L333.0,163.95 L333.5,162.42 L334.0,160.84 L334.5,159.21 L335.0,157.54 L335.5,155.83 L336.0,154.10 L336.5,152.35 L337.0,150.59 L337.5,148.83 L338.0,147.08 L338.5,145.36 L339.0,143.66 L339.5,142.01 L340.0,140.41 L340.5,138.88 L341.0,137.42 L341.5,136.05 L342.0,134.77 L342.5,133.59 L343.0,132.53 L343.5,131.57 L344.0,130.74 L344.5,130.04 L345.0,129.46 L345.5,129.01 L346.0,128.68 L346.5,128.47 L347.0,128.38 L347.5,128.40 L348.0,128.52 L348.5,128.74 L349.0,129.03 L349.5,129.38 L350.0,129.79 L350.5,130.23 L351.0,130.68 L351.5,131.13 L352.0,131.56 L352.5,131.96 L353.0,132.29 L353.5,132.55 L354.0,132.71 L354.5,132.77 L355.0,132.70 L355.5,132.50 L356.0,132.15 L356.5,131.64 L357.0,130.98 L357.5,130.16 L358.0,129.18 L358.5,128.04 L359.0,126.77 L359.5,125.36 L360.0,123.83 L360.5,122.20 L361.0,120.50 L361.5,118.74 L362.0,116.96 L362.5,115.18 L363.0,113.43 L363.5,111.74 L364.0,110.15 L364.5,108.67 L365.0,107.35 L365.5,106.21 L366.0,105.28 L366.5,104.57 L367.0,104.11 L367.5,103.92 L368.0,104.00 L368.5,104.37 L369.0,105.02 L369.5,105.96 L370.0,107.18 L370.5,108.68 L371.0,110.44 L371.5,112.44 L372.0,114.67 L372.5,117.10 L373.0,119.70 L373.5,122.46 L374.0,125.35 L374.5,128.33 L375.0,131.37 L375.5,134.46 L376.0,137.56 L376.5,140.65 L377.0,143.70 L377.5,146.70 L378.0,149.61 L378.5,152.43 L379.0,155.13 L379.5,157.72 L380.0,160.17 L380.5,162.48 L381.0,164.64 L381.5,166.66 L382.0,168.52 L382.5,170.24 L383.0,171.81 L383.5,173.25 L384.0,174.54 L384.5,175.71 L385.0,176.76 L385.5,177.69 L386.0,178.52 L386.5,179.25 L387.0,179.89 L387.5,180.44 L388.0,180.92 L388.5,181.33 L389.0,181.69 L389.5,181.99 L390.0,182.24 L390.5,182.46 L391.0,182.64 L391.5,182.79 L392.0,182.91 L392.5,183.01 L393.0,183.10" stroke="#0000ff" stroke-width="1.45"/>
<path d="M207.5,183.60 L208.0,183.60 L208.5,183.60 L209.0,183.60 L209.5,183.60 L210.0,183.60 L210.5,183.59 L211.0,183.59 L211.5,183.59 L212.0,183.59 L212.5,183.59 L213.0,183.59 L213.5,183.59 L214.0,183.59 L214.5,183.59 L215.0,183.59 L215.5,183.59 L216.0,183.58 L216.5,183.58 L217.0,183.58 L217.5,183.58 L218.0,183.58 L218.5,183.57 L219.0,183.57 L219.5,183.57 L220.0,183.56 L220.5,183.56 L221.0,183.56 L221.5,183.55 L222.0,183.55 L222.5,183.54 L223.0,183.54 L223.5,183.53 L224.0,183.52 L224.5,183.51 L225.0,183.51 L225.5,183.50 L226.0,183.49 L226.5,183.48 L227.0,183.47 L227.5,183.45 L228.0,183.44 L228.5,183.43 L229.0,183.41 L229.5,183.40 L230.0,183.38 L230.5,183.36 L231.0,183.34 L231.5,183.32 L232.0,183.29 L232.5,183.27 L233.0,183.24 L233.5,183.21 L234.0,183.18 L234.5,183.15 L235.0,183.11 L235.5,183.07 L236.0,183.03 L236.5,182.99 L237.0,182.94 L237.5,182.89 L238.0,182.83 L238.5,182.78 L239.0,182.72 L239.5,182.65 L240.0,182.59 L240.5,182.51 L241.0,182.44 L241.5,182.36 L242.0,182.27 L242.5,182.18 L243.0,182.08 L243.5,181.98 L244.0,181.87 L244.5,181.76 L245.0,181.64 L245.5,181.52 L246.0,181.39 L246.5,181.25 L247.0,181.11 L247.5,180.95 L248.0,180.79 L248.5,180.63 L249.0,180.45 L249.5,180.27 L250.0,180.08 L250.5,179.88 L251.0,179.67 L251.5,179.46 L252.0,179.23 L252.5,179.00 L253.0,178.76 L253.5,178.51 L254.0,178.24 L254.5,177.97 L255.0,177.69 L255.5,177.40 L256.0,177.10 L256.5,176.79 L257.0,176.47 L257.5,176.14 L258.0,175.80 L258.5,175.45 L259.0,175.09 L259.5,174.72 L260.0,174.35 L260.5,173.96 L261.0,173.56 L261.5,173.15 L262.0,172.74 L262.5,172.32 L263.0,171.88 L263.5,171.44 L264.0,170.99 L264.5,170.54 L265.0,170.08 L265.5,169.61 L266.0,169.13 L266.5,168.65 L267.0,168.16 L267.5,167.67 L268.0,167.17 L268.5,166.67 L269.0,166.17 L269.5,165.66 L270.0,165.16 L270.5,164.65 L271.0,164.14 L271.5,163.63 L272.0,163.12 L272.5,162.61 L273.0,162.11 L273.5,161.61 L274.0,161.11 L274.5,160.62 L275.0,160.13 L275.5,159.65 L276.0,159.17 L276.5,158.71 L277.0,158.25 L277.5,157.80 L278.0,157.36 L278.5,156.94 L279.0,156.52 L279.5,156.12 L280.0,155.73 L280.5,155.36 L281.0,155.00 L281.5,154.65 L282.0,154.32 L282.5,154.01 L283.0,153.72 L283.5,153.44 L284.0,153.18 L284.5,152.94 L285.0,152.72 L285.5,152.52 L286.0,152.34 L286.5,152.19 L287.0,152.05 L287.5,151.93 L288.0,151.84 L288.5,151.77 L289.0,151.72 L289.5,151.69 L290.0,151.68 L290.5,151.70 L291.0,151.73 L291.5,151.79 L292.0,151.87 L292.5,151.98 L293.0,152.10 L293.5,152.25 L294.0,152.41 L294.5,152.60 L295.0,152.81 L295.5,153.04 L296.0,153.28 L296.5,153.55 L297.0,153.83 L297.5,154.13 L298.0,154.45 L298.5,154.79 L299.0,155.14 L299.5,155.50 L300.0,155.89 L300.5,156.28 L301.0,156.69 L301.5,157.11 L302.0,157.54 L302.5,157.98 L303.0,158.43 L303.5,158.89 L304.0,159.36 L304.5,159.84 L305.0,160.32 L305.5,160.81 L306.0,161.31 L306.5,161.81 L307.0,162.31 L307.5,162.82 L308.0,163.32 L308.5,163.83 L309.0,164.34 L309.5,164.85 L310.0,165.36 L310.5,165.87 L311.0,166.37 L311.5,166.87 L312.0,167.37 L312.5,167.87 L313.0,168.36 L313.5,168.84 L314.0,169.32 L314.5,169.79 L315.0,170.26 L315.5,170.72 L316.0,171.17 L316.5,171.62 L317.0,172.06 L317.5,172.49 L318.0,172.91 L318.5,173.32 L319.0,173.72 L319.5,174.11 L320.0,174.50 L320.5,174.87 L321.0,175.24 L321.5,175.59 L322.0,175.94 L322.5,176.28 L323.0,176.60 L323.5,176.92 L324.0,177.22 L324.5,177.52 L325.0,177.81 L325.5,178.08 L326.0,178.35 L326.5,178.61 L327.0,178.86 L327.5,179.10 L328.0,179.33 L328.5,179.55 L329.0,179.76 L329.5,179.96 L330.0,180.16 L330.5,180.34 L331.0,180.52 L331.5,180.69 L332.0,180.86 L332.5,181.01 L333.0,181.16 L333.5,181.30 L334.0,181.43 L334.5,181.56 L335.0,181.67 L335.5,181.78 L336.0,181.89 L336.5,181.98 L337.0,182.07 L337.5,182.15 L338.0,182.22 L338.5,182.28 L339.0,182.32 L339.5,182.36 L340.0,182.38 L340.5,182.39 L341.0,182.38 L341.5,182.35 L342.0,182.30 L342.5,182.22 L343.0,182.11 L343.5,181.96 L344.0,181.78 L344.5,181.55 L345.0,181.28 L345.5,180.94 L346.0,180.54 L346.5,180.06 L347.0,179.51 L347.5,178.87 L348.0,178.13 L348.5,177.28 L349.0,176.31 L349.5,175.22 L350.0,174.00 L350.5,172.63 L351.0,171.12 L351.5,169.45 L352.0,167.62 L352.5,165.63 L353.0,163.47 L353.5,161.16 L354.0,158.69 L354.5,156.06 L355.0,153.29 L355.5,150.40 L356.0,147.39 L356.5,144.28 L357.0,141.10 L357.5,137.87 L358.0,134.62 L358.5,131.37 L359.0,128.15 L359.5,125.01 L360.0,121.97 L360.5,119.07 L361.0,116.34 L361.5,113.81 L362.0,111.51 L362.5,109.48 L363.0,107.73 L363.5,106.30 L364.0,105.20 L364.5,104.45 L365.0,104.05 L365.5,104.02 L366.0,104.34 L366.5,105.03 L367.0,106.06 L367.5,107.43 L368.0,109.12 L368.5,111.10 L369.0,113.35 L369.5,115.84 L370.0,118.53 L370.5,121.41 L371.0,124.43 L371.5,127.56 L372.0,130.76 L372.5,134.01 L373.0,137.27 L373.5,140.52 L374.0,143.72 L374.5,146.85 L375.0,149.88 L375.5,152.81 L376.0,155.61 L376.5,158.28 L377.0,160.79 L377.5,163.15 L378.0,165.35 L378.5,167.38 L379.0,169.26 L379.5,170.97 L380.0,172.53 L380.5,173.94 L381.0,175.22 L381.5,176.35 L382.0,177.36 L382.5,178.26 L383.0,179.04 L383.5,179.73 L384.0,180.33 L384.5,180.85 L385.0,181.30 L385.5,181.68 L386.0,182.01 L386.5,182.29 L387.0,182.52 L387.5,182.72 L388.0,182.88 L388.5,183.02 L389.0,183.13 L389.5,183.22 L390.0,183.30 L390.5,183.36 L391.0,183.41 L391.5,183.45 L392.0,183.48 L392.5,183.51 L393.0,183.53" stroke="#93000f" stroke-width="1.4" stroke-dasharray="2.4 1.8"/>
</g>
<g clip-path="url(#c20)" fill="none" stroke-linejoin="round">
<path d="M16.5,271.25 L17.0,271.25 L17.5,271.25 L18.0,271.25 L18.5,271.25 L19.0,271.25 L19.5,271.25 L20.0,271.25 L20.5,271.25 L21.0,271.25 L21.5,271.25 L22.0,271.25 L22.5,271.25 L23.0,271.25 L23.5,271.25 L24.0,271.25 L24.5,271.25 L25.0,271.25 L25.5,271.25 L26.0,271.25 L26.5,271.25 L27.0,271.25 L27.5,271.25 L28.0,271.25 L28.5,271.25 L29.0,271.25 L29.5,271.25 L30.0,271.25 L30.5,271.25 L31.0,271.25 L31.5,271.25 L32.0,271.25 L32.5,271.25 L33.0,271.25 L33.5,271.25 L34.0,271.25 L34.5,271.25 L35.0,271.25 L35.5,271.25 L36.0,271.25 L36.5,271.25 L37.0,271.25 L37.5,271.25 L38.0,271.25 L38.5,271.25 L39.0,271.25 L39.5,271.25 L40.0,271.25 L40.5,271.25 L41.0,271.25 L41.5,271.25 L42.0,271.25 L42.5,271.25 L43.0,271.25 L43.5,271.25 L44.0,271.25 L44.5,271.25 L45.0,271.25 L45.5,271.25 L46.0,271.25 L46.5,271.25 L47.0,271.25 L47.5,271.25 L48.0,271.25 L48.5,271.25 L49.0,271.25 L49.5,271.25 L50.0,271.25 L50.5,271.25 L51.0,271.25 L51.5,271.25 L52.0,271.25 L52.5,271.25 L53.0,271.25 L53.5,271.25 L54.0,271.25 L54.5,271.25 L55.0,271.25 L55.5,271.25 L56.0,271.25 L56.5,271.25 L57.0,271.25 L57.5,271.25 L58.0,271.25 L58.5,271.25 L59.0,271.25 L59.5,271.25 L60.0,271.25 L60.5,271.25 L61.0,271.25 L61.5,271.25 L62.0,271.25 L62.5,271.25 L63.0,271.25 L63.5,271.25 L64.0,271.25 L64.5,271.25 L65.0,271.25 L65.5,271.25 L66.0,271.25 L66.5,271.25 L67.0,271.25 L67.5,271.25 L68.0,271.25 L68.5,271.25 L69.0,271.25 L69.5,271.25 L70.0,271.25 L70.5,271.25 L71.0,271.25 L71.5,271.25 L72.0,271.25 L72.5,271.25 L73.0,271.25 L73.5,271.25 L74.0,271.25 L74.5,271.25 L75.0,271.25 L75.5,271.25 L76.0,271.25 L76.5,271.25 L77.0,271.25 L77.5,271.25 L78.0,271.25 L78.5,271.25 L79.0,271.25 L79.5,271.25 L80.0,271.25 L80.5,271.25 L81.0,271.25 L81.5,271.25 L82.0,271.25 L82.5,271.25 L83.0,271.25 L83.5,271.25 L84.0,271.25 L84.5,271.25 L85.0,271.25 L85.5,271.25 L86.0,271.25 L86.5,271.25 L87.0,271.25 L87.5,271.25 L88.0,271.25 L88.5,271.25 L89.0,271.25 L89.5,271.25 L90.0,271.25 L90.5,271.25 L91.0,271.25 L91.5,271.25 L92.0,271.25 L92.5,271.25 L93.0,271.25 L93.5,271.25 L94.0,271.25 L94.5,271.25 L95.0,271.25 L95.5,271.25 L96.0,271.25 L96.5,271.25 L97.0,271.25 L97.5,271.25 L98.0,271.25 L98.5,271.25 L99.0,271.25 L99.5,271.25 L100.0,271.25 L100.5,271.25 L101.0,271.25 L101.5,271.25 L102.0,271.25 L102.5,271.25 L103.0,271.25 L103.5,271.25 L104.0,271.25 L104.5,271.25 L105.0,271.25 L105.5,271.25 L106.0,271.25 L106.5,271.25 L107.0,271.25 L107.5,271.25 L108.0,271.25 L108.5,271.25 L109.0,271.25 L109.5,271.25 L110.0,271.25 L110.5,271.25 L111.0,271.25 L111.5,271.25 L112.0,271.25 L112.5,271.25 L113.0,271.25 L113.5,271.25 L114.0,271.25 L114.5,271.25 L115.0,271.25 L115.5,271.25 L116.0,271.25 L116.5,271.25 L117.0,271.25 L117.5,271.25 L118.0,271.25 L118.5,271.25 L119.0,271.25 L119.5,271.25 L120.0,271.25 L120.5,271.25 L121.0,271.25 L121.5,271.25 L122.0,271.25 L122.5,271.24 L123.0,271.24 L123.5,271.24 L124.0,271.23 L124.5,271.23 L125.0,271.22 L125.5,271.21 L126.0,271.20 L126.5,271.18 L127.0,271.16 L127.5,271.14 L128.0,271.10 L128.5,271.06 L129.0,271.00 L129.5,270.93 L130.0,270.84 L130.5,270.73 L131.0,270.60 L131.5,270.43 L132.0,270.24 L132.5,270.00 L133.0,269.71 L133.5,269.38 L134.0,268.98 L134.5,268.51 L135.0,267.97 L135.5,267.33 L136.0,266.60 L136.5,265.76 L137.0,264.80 L137.5,263.70 L138.0,262.45 L138.5,261.05 L139.0,259.48 L139.5,257.74 L140.0,255.82 L140.5,253.72 L141.0,251.43 L141.5,248.97 L142.0,246.32 L142.5,243.51 L143.0,240.54 L143.5,237.43 L144.0,234.21 L144.5,230.89 L145.0,227.51 L145.5,224.09 L146.0,220.68 L146.5,217.30 L147.0,213.99 L147.5,210.79 L148.0,207.74 L148.5,204.88 L149.0,202.23 L149.5,199.83 L150.0,197.70 L150.5,195.87 L151.0,194.35 L151.5,193.15 L152.0,192.28 L152.5,191.73 L153.0,191.50 L153.5,191.57 L154.0,191.91 L154.5,192.51 L155.0,193.33 L155.5,194.33 L156.0,195.49 L156.5,196.76 L157.0,198.11 L157.5,199.50 L158.0,200.90 L158.5,202.26 L159.0,203.57 L159.5,204.79 L160.0,205.91 L160.5,206.91 L161.0,207.79 L161.5,208.54 L162.0,209.16 L162.5,209.66 L163.0,210.04 L163.5,210.33 L164.0,210.54 L164.5,210.70 L165.0,210.83 L165.5,210.94 L166.0,211.08 L166.5,211.25 L167.0,211.49 L167.5,211.81 L168.0,212.23 L168.5,212.78 L169.0,213.46 L169.5,214.28 L170.0,215.25 L170.5,216.38 L171.0,217.66 L171.5,219.08 L172.0,220.65 L172.5,222.35 L173.0,224.17 L173.5,226.09 L174.0,228.10 L174.5,230.19 L175.0,232.33 L175.5,234.51 L176.0,236.70 L176.5,238.90 L177.0,241.08 L177.5,243.23 L178.0,245.33 L178.5,247.38 L179.0,249.35 L179.5,251.24 L180.0,253.04 L180.5,254.75 L181.0,256.36 L181.5,257.86 L182.0,259.26 L182.5,260.56 L183.0,261.75 L183.5,262.84 L184.0,263.84 L184.5,264.74 L185.0,265.55 L185.5,266.28 L186.0,266.93 L186.5,267.51 L187.0,268.03 L187.5,268.48 L188.0,268.89 L188.5,269.24 L189.0,269.54 L189.5,269.81 L190.0,270.04 L190.5,270.24 L191.0,270.41 L191.5,270.56 L192.0,270.68 L192.5,270.78 L193.0,270.87 L193.5,270.94 L194.0,271.00 L194.5,271.05 L195.0,271.09 L195.5,271.12 L196.0,271.15 L196.5,271.17 L197.0,271.19 L197.5,271.20 L198.0,271.21 L198.5,271.22 L199.0,271.23 L199.5,271.23 L200.0,271.24 L200.5,271.24 L201.0,271.24 L201.5,271.24 L202.0,271.25" stroke="#0000ff" stroke-width="1.45"/>
<path d="M16.5,271.25 L17.0,271.25 L17.5,271.25 L18.0,271.25 L18.5,271.25 L19.0,271.25 L19.5,271.25 L20.0,271.25 L20.5,271.25 L21.0,271.25 L21.5,271.25 L22.0,271.25 L22.5,271.25 L23.0,271.25 L23.5,271.25 L24.0,271.25 L24.5,271.25 L25.0,271.25 L25.5,271.25 L26.0,271.25 L26.5,271.25 L27.0,271.25 L27.5,271.25 L28.0,271.25 L28.5,271.25 L29.0,271.25 L29.5,271.25 L30.0,271.25 L30.5,271.25 L31.0,271.25 L31.5,271.25 L32.0,271.25 L32.5,271.25 L33.0,271.25 L33.5,271.25 L34.0,271.25 L34.5,271.25 L35.0,271.25 L35.5,271.25 L36.0,271.25 L36.5,271.25 L37.0,271.25 L37.5,271.25 L38.0,271.25 L38.5,271.25 L39.0,271.25 L39.5,271.25 L40.0,271.25 L40.5,271.25 L41.0,271.25 L41.5,271.25 L42.0,271.25 L42.5,271.25 L43.0,271.25 L43.5,271.25 L44.0,271.25 L44.5,271.25 L45.0,271.25 L45.5,271.25 L46.0,271.25 L46.5,271.25 L47.0,271.25 L47.5,271.24 L48.0,271.24 L48.5,271.24 L49.0,271.24 L49.5,271.23 L50.0,271.23 L50.5,271.23 L51.0,271.22 L51.5,271.21 L52.0,271.20 L52.5,271.19 L53.0,271.18 L53.5,271.17 L54.0,271.15 L54.5,271.12 L55.0,271.10 L55.5,271.07 L56.0,271.03 L56.5,270.98 L57.0,270.93 L57.5,270.87 L58.0,270.80 L58.5,270.71 L59.0,270.61 L59.5,270.50 L60.0,270.37 L60.5,270.22 L61.0,270.05 L61.5,269.85 L62.0,269.63 L62.5,269.39 L63.0,269.10 L63.5,268.79 L64.0,268.44 L64.5,268.04 L65.0,267.60 L65.5,267.12 L66.0,266.58 L66.5,265.98 L67.0,265.32 L67.5,264.60 L68.0,263.81 L68.5,262.95 L69.0,262.01 L69.5,260.99 L70.0,259.89 L70.5,258.71 L71.0,257.44 L71.5,256.09 L72.0,254.65 L72.5,253.13 L73.0,251.52 L73.5,249.84 L74.0,248.08 L74.5,246.24 L75.0,244.34 L75.5,242.38 L76.0,240.37 L76.5,238.31 L77.0,236.23 L77.5,234.12 L78.0,232.00 L78.5,229.88 L79.0,227.79 L79.5,225.71 L80.0,223.69 L80.5,221.72 L81.0,219.83 L81.5,218.02 L82.0,216.31 L82.5,214.72 L83.0,213.26 L83.5,211.93 L84.0,210.76 L84.5,209.76 L85.0,208.92 L85.5,208.26 L86.0,207.78 L86.5,207.50 L87.0,207.40 L87.5,207.50 L88.0,207.78 L88.5,208.26 L89.0,208.92 L89.5,209.76 L90.0,210.76 L90.5,211.93 L91.0,213.26 L91.5,214.72 L92.0,216.31 L92.5,218.02 L93.0,219.83 L93.5,221.72 L94.0,223.69 L94.5,225.71 L95.0,227.79 L95.5,229.88 L96.0,232.00 L96.5,234.12 L97.0,236.23 L97.5,238.31 L98.0,240.37 L98.5,242.38 L99.0,244.34 L99.5,246.24 L100.0,248.08 L100.5,249.84 L101.0,251.52 L101.5,253.13 L102.0,254.65 L102.5,256.09 L103.0,257.44 L103.5,258.71 L104.0,259.89 L104.5,260.99 L105.0,262.01 L105.5,262.95 L106.0,263.81 L106.5,264.60 L107.0,265.32 L107.5,265.98 L108.0,266.58 L108.5,267.12 L109.0,267.60 L109.5,268.04 L110.0,268.44 L110.5,268.79 L111.0,269.10 L111.5,269.39 L112.0,269.63 L112.5,269.85 L113.0,270.05 L113.5,270.22 L114.0,270.37 L114.5,270.50 L115.0,270.61 L115.5,270.71 L116.0,270.80 L116.5,270.87 L117.0,270.93 L117.5,270.98 L118.0,271.03 L118.5,271.07 L119.0,271.10 L119.5,271.12 L120.0,271.15 L120.5,271.17 L121.0,271.18 L121.5,271.19 L122.0,271.20 L122.5,271.21 L123.0,271.22 L123.5,271.23 L124.0,271.23 L124.5,271.23 L125.0,271.24 L125.5,271.24 L126.0,271.24 L126.5,271.24 L127.0,271.25 L127.5,271.25 L128.0,271.25 L128.5,271.25 L129.0,271.25 L129.5,271.25 L130.0,271.25 L130.5,271.25 L131.0,271.25 L131.5,271.25 L132.0,271.25 L132.5,271.25 L133.0,271.25 L133.5,271.25 L134.0,271.25 L134.5,271.25 L135.0,271.25 L135.5,271.25 L136.0,271.25 L136.5,271.25 L137.0,271.25 L137.5,271.25 L138.0,271.24 L138.5,271.24 L139.0,271.24 L139.5,271.23 L140.0,271.23 L140.5,271.22 L141.0,271.21 L141.5,271.20 L142.0,271.18 L142.5,271.16 L143.0,271.13 L143.5,271.09 L144.0,271.05 L144.5,270.99 L145.0,270.92 L145.5,270.83 L146.0,270.72 L146.5,270.58 L147.0,270.41 L147.5,270.21 L148.0,269.97 L148.5,269.68 L149.0,269.33 L149.5,268.93 L150.0,268.45 L150.5,267.89 L151.0,267.25 L151.5,266.50 L152.0,265.64 L152.5,264.65 L153.0,263.53 L153.5,262.26 L154.0,260.82 L154.5,259.22 L155.0,257.43 L155.5,255.46 L156.0,253.29 L156.5,250.94 L157.0,248.39 L157.5,245.66 L158.0,242.75 L158.5,239.68 L159.0,236.46 L159.5,233.11 L160.0,229.67 L160.5,226.15 L161.0,222.60 L161.5,219.05 L162.0,215.53 L162.5,212.10 L163.0,208.80 L163.5,205.66 L164.0,202.73 L164.5,200.06 L165.0,197.68 L165.5,195.63 L166.0,193.95 L166.5,192.64 L167.0,191.75 L167.5,191.28 L168.0,191.23 L168.5,191.62 L169.0,192.43 L169.5,193.65 L170.0,195.27 L170.5,197.25 L171.0,199.56 L171.5,202.18 L172.0,205.06 L172.5,208.15 L173.0,211.43 L173.5,214.84 L174.0,218.34 L174.5,221.89 L175.0,225.44 L175.5,228.97 L176.0,232.43 L176.5,235.80 L177.0,239.05 L177.5,242.15 L178.0,245.09 L178.5,247.86 L179.0,250.44 L179.5,252.84 L180.0,255.04 L180.5,257.05 L181.0,258.87 L181.5,260.51 L182.0,261.98 L182.5,263.29 L183.0,264.44 L183.5,265.45 L184.0,266.34 L184.5,267.11 L185.0,267.77 L185.5,268.35 L186.0,268.84 L186.5,269.26 L187.0,269.61 L187.5,269.91 L188.0,270.16 L188.5,270.37 L189.0,270.55 L189.5,270.69 L190.0,270.81 L190.5,270.90 L191.0,270.98 L191.5,271.04 L192.0,271.09 L192.5,271.12 L193.0,271.15 L193.5,271.18 L194.0,271.19 L194.5,271.21 L195.0,271.22 L195.5,271.23 L196.0,271.23 L196.5,271.24 L197.0,271.24 L197.5,271.24 L198.0,271.25 L198.5,271.25 L199.0,271.25 L199.5,271.25 L200.0,271.25 L200.5,271.25 L201.0,271.25 L201.5,271.25 L202.0,271.25" stroke="#93000f" stroke-width="1.4" stroke-dasharray="2.4 1.8"/>
</g>
<g clip-path="url(#c21)" fill="none" stroke-linejoin="round">
<path d="M207.5,271.25 L208.0,271.25 L208.5,271.25 L209.0,271.25 L209.5,271.25 L210.0,271.25 L210.5,271.25 L211.0,271.25 L211.5,271.25 L212.0,271.25 L212.5,271.25 L213.0,271.25 L213.5,271.25 L214.0,271.25 L214.5,271.25 L215.0,271.25 L215.5,271.25 L216.0,271.25 L216.5,271.25 L217.0,271.25 L217.5,271.25 L218.0,271.25 L218.5,271.25 L219.0,271.25 L219.5,271.25 L220.0,271.25 L220.5,271.25 L221.0,271.25 L221.5,271.25 L222.0,271.25 L222.5,271.25 L223.0,271.25 L223.5,271.25 L224.0,271.25 L224.5,271.25 L225.0,271.25 L225.5,271.25 L226.0,271.25 L226.5,271.25 L227.0,271.25 L227.5,271.25 L228.0,271.25 L228.5,271.25 L229.0,271.25 L229.5,271.25 L230.0,271.25 L230.5,271.25 L231.0,271.25 L231.5,271.25 L232.0,271.25 L232.5,271.25 L233.0,271.25 L233.5,271.25 L234.0,271.25 L234.5,271.25 L235.0,271.25 L235.5,271.25 L236.0,271.25 L236.5,271.25 L237.0,271.25 L237.5,271.25 L238.0,271.25 L238.5,271.25 L239.0,271.25 L239.5,271.25 L240.0,271.25 L240.5,271.25 L241.0,271.25 L241.5,271.25 L242.0,271.25 L242.5,271.25 L243.0,271.25 L243.5,271.25 L244.0,271.25 L244.5,271.25 L245.0,271.25 L245.5,271.25 L246.0,271.25 L246.5,271.25 L247.0,271.25 L247.5,271.25 L248.0,271.25 L248.5,271.25 L249.0,271.25 L249.5,271.25 L250.0,271.25 L250.5,271.25 L251.0,271.25 L251.5,271.25 L252.0,271.25 L252.5,271.25 L253.0,271.25 L253.5,271.25 L254.0,271.25 L254.5,271.25 L255.0,271.25 L255.5,271.25 L256.0,271.25 L256.5,271.25 L257.0,271.25 L257.5,271.25 L258.0,271.25 L258.5,271.25 L259.0,271.24 L259.5,271.24 L260.0,271.24 L260.5,271.24 L261.0,271.24 L261.5,271.24 L262.0,271.23 L262.5,271.23 L263.0,271.23 L263.5,271.23 L264.0,271.22 L264.5,271.22 L265.0,271.21 L265.5,271.21 L266.0,271.20 L266.5,271.19 L267.0,271.18 L267.5,271.17 L268.0,271.16 L268.5,271.15 L269.0,271.13 L269.5,271.11 L270.0,271.10 L270.5,271.07 L271.0,271.05 L271.5,271.02 L272.0,270.99 L272.5,270.96 L273.0,270.92 L273.5,270.88 L274.0,270.83 L274.5,270.78 L275.0,270.72 L275.5,270.65 L276.0,270.58 L276.5,270.50 L277.0,270.42 L277.5,270.32 L278.0,270.22 L278.5,270.11 L279.0,269.98 L279.5,269.85 L280.0,269.70 L280.5,269.54 L281.0,269.37 L281.5,269.18 L282.0,268.98 L282.5,268.76 L283.0,268.52 L283.5,268.27 L284.0,268.00 L284.5,267.70 L285.0,267.39 L285.5,267.06 L286.0,266.70 L286.5,266.32 L287.0,265.91 L287.5,265.48 L288.0,265.02 L288.5,264.53 L289.0,264.01 L289.5,263.46 L290.0,262.89 L290.5,262.28 L291.0,261.64 L291.5,260.97 L292.0,260.26 L292.5,259.53 L293.0,258.76 L293.5,257.96 L294.0,257.13 L294.5,256.26 L295.0,255.37 L295.5,254.45 L296.0,253.49 L296.5,252.52 L297.0,251.51 L297.5,250.48 L298.0,249.43 L298.5,248.36 L299.0,247.28 L299.5,246.17 L300.0,245.06 L300.5,243.93 L301.0,242.80 L301.5,241.66 L302.0,240.52 L302.5,239.39 L303.0,238.26 L303.5,237.15 L304.0,236.04 L304.5,234.96 L305.0,233.90 L305.5,232.86 L306.0,231.85 L306.5,230.87 L307.0,229.93 L307.5,229.03 L308.0,228.18 L308.5,227.37 L309.0,226.62 L309.5,225.91 L310.0,225.27 L310.5,224.68 L311.0,224.15 L311.5,223.69 L312.0,223.30 L312.5,222.97 L313.0,222.71 L313.5,222.52 L314.0,222.40 L314.5,222.35 L315.0,222.37 L315.5,222.46 L316.0,222.62 L316.5,222.84 L317.0,223.13 L317.5,223.48 L318.0,223.89 L318.5,224.36 L319.0,224.87 L319.5,225.44 L320.0,226.04 L320.5,226.69 L321.0,227.37 L321.5,228.07 L322.0,228.79 L322.5,229.52 L323.0,230.25 L323.5,230.99 L324.0,231.70 L324.5,232.40 L325.0,233.07 L325.5,233.69 L326.0,234.27 L326.5,234.79 L327.0,235.23 L327.5,235.60 L328.0,235.88 L328.5,236.06 L329.0,236.13 L329.5,236.09 L330.0,235.92 L330.5,235.62 L331.0,235.18 L331.5,234.60 L332.0,233.88 L332.5,233.00 L333.0,231.98 L333.5,230.81 L334.0,229.50 L334.5,228.04 L335.0,226.45 L335.5,224.73 L336.0,222.90 L336.5,220.97 L337.0,218.96 L337.5,216.87 L338.0,214.73 L338.5,212.56 L339.0,210.38 L339.5,208.21 L340.0,206.08 L340.5,204.01 L341.0,202.02 L341.5,200.13 L342.0,198.38 L342.5,196.78 L343.0,195.35 L343.5,194.11 L344.0,193.09 L344.5,192.29 L345.0,191.72 L345.5,191.41 L346.0,191.35 L346.5,191.55 L347.0,192.02 L347.5,192.74 L348.0,193.71 L348.5,194.94 L349.0,196.40 L349.5,198.09 L350.0,199.98 L350.5,202.07 L351.0,204.32 L351.5,206.73 L352.0,209.28 L352.5,211.93 L353.0,214.66 L353.5,217.46 L354.0,220.30 L354.5,223.17 L355.0,226.03 L355.5,228.87 L356.0,231.67 L356.5,234.42 L357.0,237.10 L357.5,239.69 L358.0,242.19 L358.5,244.58 L359.0,246.87 L359.5,249.03 L360.0,251.07 L360.5,252.99 L361.0,254.78 L361.5,256.45 L362.0,257.99 L362.5,259.41 L363.0,260.71 L363.5,261.90 L364.0,262.98 L364.5,263.96 L365.0,264.85 L365.5,265.64 L366.0,266.35 L366.5,266.98 L367.0,267.54 L367.5,268.04 L368.0,268.49 L368.5,268.87 L369.0,269.22 L369.5,269.52 L370.0,269.78 L370.5,270.00 L371.0,270.20 L371.5,270.37 L372.0,270.51 L372.5,270.64 L373.0,270.74 L373.5,270.83 L374.0,270.91 L374.5,270.97 L375.0,271.02 L375.5,271.06 L376.0,271.10 L376.5,271.13 L377.0,271.15 L377.5,271.17 L378.0,271.19 L378.5,271.20 L379.0,271.21 L379.5,271.22 L380.0,271.23 L380.5,271.23 L381.0,271.24 L381.5,271.24 L382.0,271.24 L382.5,271.24 L383.0,271.24 L383.5,271.25 L384.0,271.25 L384.5,271.25 L385.0,271.25 L385.5,271.25 L386.0,271.25 L386.5,271.25 L387.0,271.25 L387.5,271.25 L388.0,271.25 L388.5,271.25 L389.0,271.25 L389.5,271.25 L390.0,271.25 L390.5,271.25 L391.0,271.25 L391.5,271.25 L392.0,271.25 L392.5,271.25 L393.0,271.25" stroke="#0000ff" stroke-width="1.45"/>
<path d="M207.5,271.02 L208.0,270.99 L208.5,270.97 L209.0,270.94 L209.5,270.91 L210.0,270.88 L210.5,270.84 L211.0,270.81 L211.5,270.77 L212.0,270.72 L212.5,270.68 L213.0,270.63 L213.5,270.57 L214.0,270.51 L214.5,270.45 L215.0,270.38 L215.5,270.31 L216.0,270.24 L216.5,270.15 L217.0,270.07 L217.5,269.97 L218.0,269.88 L218.5,269.77 L219.0,269.66 L219.5,269.54 L220.0,269.42 L220.5,269.28 L221.0,269.14 L221.5,269.00 L222.0,268.84 L222.5,268.68 L223.0,268.50 L223.5,268.32 L224.0,268.13 L224.5,267.93 L225.0,267.71 L225.5,267.49 L226.0,267.26 L226.5,267.01 L227.0,266.76 L227.5,266.49 L228.0,266.21 L228.5,265.92 L229.0,265.62 L229.5,265.30 L230.0,264.97 L230.5,264.63 L231.0,264.28 L231.5,263.91 L232.0,263.52 L232.5,263.13 L233.0,262.72 L233.5,262.30 L234.0,261.86 L234.5,261.41 L235.0,260.95 L235.5,260.48 L236.0,259.99 L236.5,259.49 L237.0,258.98 L237.5,258.46 L238.0,257.92 L238.5,257.38 L239.0,256.82 L239.5,256.26 L240.0,255.68 L240.5,255.10 L241.0,254.51 L241.5,253.92 L242.0,253.31 L242.5,252.71 L243.0,252.10 L243.5,251.48 L244.0,250.86 L244.5,250.25 L245.0,249.63 L245.5,249.01 L246.0,248.40 L246.5,247.79 L247.0,247.18 L247.5,246.58 L248.0,245.99 L248.5,245.40 L249.0,244.83 L249.5,244.26 L250.0,243.71 L250.5,243.17 L251.0,242.65 L251.5,242.14 L252.0,241.65 L252.5,241.17 L253.0,240.72 L253.5,240.28 L254.0,239.87 L254.5,239.48 L255.0,239.11 L255.5,238.76 L256.0,238.45 L256.5,238.15 L257.0,237.89 L257.5,237.65 L258.0,237.44 L258.5,237.26 L259.0,237.10 L259.5,236.98 L260.0,236.89 L260.5,236.82 L261.0,236.79 L261.5,236.79 L262.0,236.81 L262.5,236.87 L263.0,236.96 L263.5,237.08 L264.0,237.22 L264.5,237.40 L265.0,237.60 L265.5,237.84 L266.0,238.10 L266.5,238.39 L267.0,238.70 L267.5,239.04 L268.0,239.40 L268.5,239.79 L269.0,240.20 L269.5,240.63 L270.0,241.08 L270.5,241.55 L271.0,242.04 L271.5,242.54 L272.0,243.07 L272.5,243.60 L273.0,244.15 L273.5,244.72 L274.0,245.29 L274.5,245.87 L275.0,246.46 L275.5,247.06 L276.0,247.67 L276.5,248.28 L277.0,248.89 L277.5,249.51 L278.0,250.12 L278.5,250.74 L279.0,251.36 L279.5,251.97 L280.0,252.58 L280.5,253.19 L281.0,253.80 L281.5,254.39 L282.0,254.98 L282.5,255.57 L283.0,256.14 L283.5,256.71 L284.0,257.27 L284.5,257.81 L285.0,258.35 L285.5,258.88 L286.0,259.39 L286.5,259.89 L287.0,260.38 L287.5,260.86 L288.0,261.32 L288.5,261.77 L289.0,262.21 L289.5,262.64 L290.0,263.05 L290.5,263.45 L291.0,263.83 L291.5,264.20 L292.0,264.56 L292.5,264.91 L293.0,265.24 L293.5,265.56 L294.0,265.86 L294.5,266.16 L295.0,266.44 L295.5,266.71 L296.0,266.96 L296.5,267.21 L297.0,267.45 L297.5,267.67 L298.0,267.88 L298.5,268.09 L299.0,268.28 L299.5,268.47 L300.0,268.64 L300.5,268.81 L301.0,268.97 L301.5,269.11 L302.0,269.26 L302.5,269.39 L303.0,269.52 L303.5,269.64 L304.0,269.75 L304.5,269.85 L305.0,269.95 L305.5,270.05 L306.0,270.14 L306.5,270.22 L307.0,270.30 L307.5,270.37 L308.0,270.44 L308.5,270.50 L309.0,270.56 L309.5,270.61 L310.0,270.67 L310.5,270.71 L311.0,270.76 L311.5,270.80 L312.0,270.84 L312.5,270.87 L313.0,270.90 L313.5,270.93 L314.0,270.96 L314.5,270.99 L315.0,271.01 L315.5,271.03 L316.0,271.05 L316.5,271.07 L317.0,271.09 L317.5,271.10 L318.0,271.12 L318.5,271.13 L319.0,271.14 L319.5,271.15 L320.0,271.16 L320.5,271.17 L321.0,271.18 L321.5,271.18 L322.0,271.19 L322.5,271.20 L323.0,271.20 L323.5,271.21 L324.0,271.21 L324.5,271.21 L325.0,271.22 L325.5,271.22 L326.0,271.22 L326.5,271.22 L327.0,271.22 L327.5,271.22 L328.0,271.22 L328.5,271.22 L329.0,271.21 L329.5,271.21 L330.0,271.20 L330.5,271.18 L331.0,271.17 L331.5,271.15 L332.0,271.12 L332.5,271.09 L333.0,271.05 L333.5,271.00 L334.0,270.93 L334.5,270.86 L335.0,270.76 L335.5,270.65 L336.0,270.51 L336.5,270.35 L337.0,270.15 L337.5,269.92 L338.0,269.65 L338.5,269.33 L339.0,268.96 L339.5,268.53 L340.0,268.03 L340.5,267.46 L341.0,266.81 L341.5,266.07 L342.0,265.22 L342.5,264.27 L343.0,263.19 L343.5,261.99 L344.0,260.64 L344.5,259.16 L345.0,257.52 L345.5,255.72 L346.0,253.76 L346.5,251.64 L347.0,249.36 L347.5,246.92 L348.0,244.33 L348.5,241.59 L349.0,238.72 L349.5,235.74 L350.0,232.64 L350.5,229.47 L351.0,226.25 L351.5,222.99 L352.0,219.72 L352.5,216.49 L353.0,213.31 L353.5,210.23 L354.0,207.28 L354.5,204.48 L355.0,201.88 L355.5,199.51 L356.0,197.39 L356.5,195.55 L357.0,194.02 L357.5,192.81 L358.0,191.95 L358.5,191.45 L359.0,191.30 L359.5,191.52 L360.0,192.10 L360.5,193.03 L361.0,194.30 L361.5,195.89 L362.0,197.79 L362.5,199.96 L363.0,202.38 L363.5,205.03 L364.0,207.86 L364.5,210.84 L365.0,213.94 L365.5,217.13 L366.0,220.37 L366.5,223.64 L367.0,226.89 L367.5,230.11 L368.0,233.27 L368.5,236.34 L369.0,239.31 L369.5,242.15 L370.0,244.86 L370.5,247.42 L371.0,249.83 L371.5,252.08 L372.0,254.17 L372.5,256.09 L373.0,257.86 L373.5,259.47 L374.0,260.92 L374.5,262.24 L375.0,263.42 L375.5,264.47 L376.0,265.40 L376.5,266.22 L377.0,266.95 L377.5,267.58 L378.0,268.14 L378.5,268.62 L379.0,269.04 L379.5,269.40 L380.0,269.70 L380.5,269.97 L381.0,270.19 L381.5,270.38 L382.0,270.54 L382.5,270.68 L383.0,270.79 L383.5,270.88 L384.0,270.95 L384.5,271.01 L385.0,271.06 L385.5,271.10 L386.0,271.13 L386.5,271.16 L387.0,271.18 L387.5,271.20 L388.0,271.21 L388.5,271.22 L389.0,271.23 L389.5,271.23 L390.0,271.24 L390.5,271.24 L391.0,271.24 L391.5,271.24 L392.0,271.25 L392.5,271.25 L393.0,271.25" stroke="#93000f" stroke-width="1.4" stroke-dasharray="2.4 1.8"/>
</g>
<path d="M43.71,95.5v-3.6M43.71,8.5v3.6M70.25,95.5v-3.6M70.25,8.5v3.6M96.79,95.5v-3.6M96.79,8.5v3.6M123.33,95.5v-3.6M123.33,8.5v3.6M149.87,95.5v-3.6M149.87,8.5v3.6M176.41,95.5v-3.6M176.41,8.5v3.6M18.5,79.55h3.6M200.3,79.55h-3.6M18.5,63.60h3.6M200.3,63.60h-3.6M18.5,47.65h3.6M200.3,47.65h-3.6M18.5,31.70h3.6M200.3,31.70h-3.6M18.5,15.75h3.6M200.3,15.75h-3.6M43.71,183.6v-3.6M43.71,95.5v3.6M70.25,183.6v-3.6M70.25,95.5v3.6M96.79,183.6v-3.6M96.79,95.5v3.6M123.33,183.6v-3.6M123.33,95.5v3.6M149.87,183.6v-3.6M149.87,95.5v3.6M176.41,183.6v-3.6M176.41,95.5v3.6M18.5,167.55h3.6M200.3,167.55h-3.6M18.5,151.50h3.6M200.3,151.50h-3.6M18.5,135.45h3.6M200.3,135.45h-3.6M18.5,119.40h3.6M200.3,119.40h-3.6M18.5,103.35h3.6M200.3,103.35h-3.6M43.71,271.0v-3.6M43.71,183.6v3.6M70.25,271.0v-3.6M70.25,183.6v3.6M96.79,271.0v-3.6M96.79,183.6v3.6M123.33,271.0v-3.6M123.33,183.6v3.6M149.87,271.0v-3.6M149.87,183.6v3.6M176.41,271.0v-3.6M176.41,183.6v3.6M18.5,255.05h3.6M200.3,255.05h-3.6M18.5,239.10h3.6M200.3,239.10h-3.6M18.5,223.15h3.6M200.3,223.15h-3.6M18.5,207.20h3.6M200.3,207.20h-3.6M18.5,191.25h3.6M200.3,191.25h-3.6M234.67,95.5v-3.6M234.67,8.5v3.6M261.17,95.5v-3.6M261.17,8.5v3.6M287.66,95.5v-3.6M287.66,8.5v3.6M314.16,95.5v-3.6M314.16,8.5v3.6M340.66,95.5v-3.6M340.66,8.5v3.6M367.15,95.5v-3.6M367.15,8.5v3.6M209.5,79.55h3.6M391.0,79.55h-3.6M209.5,63.60h3.6M391.0,63.60h-3.6M209.5,47.65h3.6M391.0,47.65h-3.6M209.5,31.70h3.6M391.0,31.70h-3.6M209.5,15.75h3.6M391.0,15.75h-3.6M234.67,183.6v-3.6M234.67,95.5v3.6M261.17,183.6v-3.6M261.17,95.5v3.6M287.66,183.6v-3.6M287.66,95.5v3.6M314.16,183.6v-3.6M314.16,95.5v3.6M340.66,183.6v-3.6M340.66,95.5v3.6M367.15,183.6v-3.6M367.15,95.5v3.6M209.5,167.55h3.6M391.0,167.55h-3.6M209.5,151.50h3.6M391.0,151.50h-3.6M209.5,135.45h3.6M391.0,135.45h-3.6M209.5,119.40h3.6M391.0,119.40h-3.6M209.5,103.35h3.6M391.0,103.35h-3.6M234.67,271.0v-3.6M234.67,183.6v3.6M261.17,271.0v-3.6M261.17,183.6v3.6M287.66,271.0v-3.6M287.66,183.6v3.6M314.16,271.0v-3.6M314.16,183.6v3.6M340.66,271.0v-3.6M340.66,183.6v3.6M367.15,271.0v-3.6M367.15,183.6v3.6M209.5,255.05h3.6M391.0,255.05h-3.6M209.5,239.10h3.6M391.0,239.10h-3.6M209.5,223.15h3.6M391.0,223.15h-3.6M209.5,207.20h3.6M391.0,207.20h-3.6M209.5,191.25h3.6M391.0,191.25h-3.6" stroke="#000" stroke-opacity="0.6" stroke-width="0.9" fill="none"/>
<path d="M18.0,8.5L200.8,8.5" stroke="#000" stroke-opacity="0.45" stroke-width="1.0" fill="none"/>
<path d="M18.0,95.5L200.8,95.5" stroke="#000" stroke-opacity="0.5" stroke-width="1.0" fill="none"/>
<path d="M18.0,183.6L200.8,183.6" stroke="#000" stroke-opacity="0.9" stroke-width="0.9" fill="none"/>
<path d="M18.0,271.0L200.8,271.0" stroke="#000" stroke-opacity="0.5" stroke-width="1.0" fill="none"/>
<path d="M18.5,8.5L18.5,271.0" stroke="#000" stroke-opacity="0.62" stroke-width="1.0" fill="none"/>
<path d="M200.3,8.5L200.3,271.0" stroke="#000" stroke-opacity="0.55" stroke-width="1.0" fill="none"/>
<path d="M209.0,8.5L391.5,8.5" stroke="#000" stroke-opacity="0.45" stroke-width="1.0" fill="none"/>
<path d="M209.0,95.5L391.5,95.5" stroke="#000" stroke-opacity="0.5" stroke-width="1.0" fill="none"/>
<path d="M209.0,183.6L391.5,183.6" stroke="#000" stroke-opacity="0.9" stroke-width="0.9" fill="none"/>
<path d="M209.0,271.0L391.5,271.0" stroke="#000" stroke-opacity="0.5" stroke-width="1.0" fill="none"/>
<path d="M209.5,8.5L209.5,271.0" stroke="#000" stroke-opacity="0.62" stroke-width="1.0" fill="none"/>
<path d="M391.0,8.5L391.0,271.0" stroke="#000" stroke-opacity="0.66" stroke-width="1.0" fill="none"/>
<g font-family="Liberation Serif, serif" font-size="7.4" fill="#505050" text-anchor="middle">
<text x="43.7" y="278.9">2</text>
<text x="70.3" y="278.9">4</text>
<text x="96.8" y="278.9">6</text>
<text x="123.3" y="278.9">8</text>
<text x="149.9" y="278.9">10</text>
<text x="176.4" y="278.9">12</text>
<text x="234.7" y="278.9">2</text>
<text x="261.2" y="278.9">4</text>
<text x="287.7" y="278.9">6</text>
<text x="314.2" y="278.9">8</text>
<text x="340.7" y="278.9">10</text>
<text x="367.2" y="278.9">12</text>
</g>
<text x="60.1" y="288.2" font-family="Liberation Serif, serif" font-size="9.9" fill="#111" stroke="#111" stroke-width="0.22" textLength="41.8" lengthAdjust="spacing">quenching</text>
<text x="104.8" y="288.2" font-family="Liberation Serif, serif" font-size="9.9" fill="#111" stroke="#111" stroke-width="0.22" textLength="20.4" lengthAdjust="spacing">time,</text>
<text x="128.4" y="288.2" font-family="Liberation Serif, serif" font-size="9.9" font-style="italic" fill="#444">t</text>
<text x="131.4" y="289.8" font-family="Liberation Serif, serif" font-size="6.2" font-style="italic" fill="#555">q</text>
<text x="137.8" y="288.2" font-family="Liberation Serif, serif" font-size="9.5" fill="#111" stroke="#111" stroke-width="0.22" textLength="20.2" lengthAdjust="spacing">[Gyr]</text>
<text x="251.1" y="288.2" font-family="Liberation Serif, serif" font-size="9.9" fill="#111" stroke="#111" stroke-width="0.22" textLength="41.8" lengthAdjust="spacing">quenching</text>
<text x="295.8" y="288.2" font-family="Liberation Serif, serif" font-size="9.9" fill="#111" stroke="#111" stroke-width="0.22" textLength="20.4" lengthAdjust="spacing">time,</text>
<text x="319.4" y="288.2" font-family="Liberation Serif, serif" font-size="9.9" font-style="italic" fill="#444">t</text>
<text x="322.4" y="289.8" font-family="Liberation Serif, serif" font-size="6.2" font-style="italic" fill="#555">q</text>
<text x="328.8" y="288.2" font-family="Liberation Serif, serif" font-size="9.5" fill="#111" stroke="#111" stroke-width="0.22" textLength="20.2" lengthAdjust="spacing">[Gyr]</text>
<g transform="translate(15,223.7) rotate(-90)" font-family="Liberation Serif, serif" font-size="9.9" fill="#1a1a1a" stroke="#1a1a1a" stroke-width="0.22">
<text x="0" y="0" textLength="44.2" lengthAdjust="spacing">normalised</text>
<text x="47.4" y="0" textLength="56.4" lengthAdjust="spacing">1-dimensional</text>
<text x="107.2" y="0" textLength="23.2" lengthAdjust="spacing">hyper</text>
<text x="133.6" y="0" textLength="35.6" lengthAdjust="spacing">posterior</text>
</g>
<g font-family="Liberation Serif, serif" fill="#3c3c3c"><text x="23.00" y="17.10" font-size="7.2" >log</text><text x="32.70" y="17.10" font-size="7.2" >[</text><text x="34.60" y="17.10" font-size="7.6000000000000005" font-style="italic">M</text><text x="40.80" y="20.00" font-size="6.2" >*</text><text x="45.40" y="17.10" font-size="7.2" >/</text><text x="47.90" y="17.10" font-size="7.6000000000000005" font-style="italic">M</text><circle cx="55.60" cy="17.40" r="1.5" fill="none" stroke="#3c3c3c" stroke-width="0.45"/><circle cx="55.60" cy="17.40" r="0.4" fill="#3c3c3c"/><text x="57.60" y="17.10" font-size="7.2" >]</text><path d="M66.90,13.65L62.20,15.20L66.90,16.75" fill="none" stroke="#3c3c3c" stroke-width="0.55"/><text x="70.10" y="17.10" font-size="7.2" >10.25</text></g>
<text x="88.5" y="17.1" font-family="Liberation Serif, serif" font-weight="bold" font-size="7.8" fill="#111" textLength="45.6" lengthAdjust="spacing">AGN-HOSTS</text>
<g font-family="Liberation Serif, serif" fill="#3c3c3c"><text x="214.00" y="17.10" font-size="7.2" >log</text><text x="223.70" y="17.10" font-size="7.2" >[</text><text x="225.60" y="17.10" font-size="7.6000000000000005" font-style="italic">M</text><text x="231.80" y="20.00" font-size="6.2" >*</text><text x="236.40" y="17.10" font-size="7.2" >/</text><text x="238.90" y="17.10" font-size="7.6000000000000005" font-style="italic">M</text><circle cx="246.60" cy="17.40" r="1.5" fill="none" stroke="#3c3c3c" stroke-width="0.45"/><circle cx="246.60" cy="17.40" r="0.4" fill="#3c3c3c"/><text x="248.60" y="17.10" font-size="7.2" >]</text><path d="M257.90,13.65L253.20,15.20L257.90,16.75" fill="none" stroke="#3c3c3c" stroke-width="0.55"/><text x="261.10" y="17.10" font-size="7.2" >10.25</text></g>
<text x="279.5" y="17.1" font-family="Liberation Serif, serif" font-weight="bold" font-size="7.8" fill="#111" textLength="38.2" lengthAdjust="spacing">INACTIVE</text>
<g font-family="Liberation Serif, serif" fill="#3c3c3c"><text x="22.60" y="104.50" font-size="7.2" >10.25</text><path d="M46.30,101.05L41.60,102.60L46.30,104.15" fill="none" stroke="#3c3c3c" stroke-width="0.55"/><text x="49.10" y="104.50" font-size="7.2" >log</text><text x="58.80" y="104.50" font-size="7.2" >[</text><text x="60.70" y="104.50" font-size="7.6000000000000005" font-style="italic">M</text><text x="66.90" y="107.40" font-size="6.2" >*</text><text x="71.50" y="104.50" font-size="7.2" >/</text><text x="74.00" y="104.50" font-size="7.6000000000000005" font-style="italic">M</text><circle cx="81.70" cy="104.80" r="1.5" fill="none" stroke="#3c3c3c" stroke-width="0.45"/><circle cx="81.70" cy="104.80" r="0.4" fill="#3c3c3c"/><text x="83.70" y="104.50" font-size="7.2" >]</text><path d="M93.00,101.05L88.30,102.60L93.00,104.15" fill="none" stroke="#3c3c3c" stroke-width="0.55"/><text x="96.20" y="104.50" font-size="7.2" >10.75</text></g>
<text x="114.6" y="104.5" font-family="Liberation Serif, serif" font-weight="bold" font-size="7.8" fill="#111" textLength="45.6" lengthAdjust="spacing">AGN-HOSTS</text>
<g font-family="Liberation Serif, serif" fill="#3c3c3c"><text x="213.60" y="104.50" font-size="7.2" >10.25</text><path d="M237.30,101.05L232.60,102.60L237.30,104.15" fill="none" stroke="#3c3c3c" stroke-width="0.55"/><text x="240.10" y="104.50" font-size="7.2" >log</text><text x="249.80" y="104.50" font-size="7.2" >[</text><text x="251.70" y="104.50" font-size="7.6000000000000005" font-style="italic">M</text><text x="257.90" y="107.40" font-size="6.2" >*</text><text x="262.50" y="104.50" font-size="7.2" >/</text><text x="265.00" y="104.50" font-size="7.6000000000000005" font-style="italic">M</text><circle cx="272.70" cy="104.80" r="1.5" fill="none" stroke="#3c3c3c" stroke-width="0.45"/><circle cx="272.70" cy="104.80" r="0.4" fill="#3c3c3c"/><text x="274.70" y="104.50" font-size="7.2" >]</text><path d="M284.00,101.05L279.30,102.60L284.00,104.15" fill="none" stroke="#3c3c3c" stroke-width="0.55"/><text x="287.20" y="104.50" font-size="7.2" >10.75</text></g>
<text x="305.6" y="104.5" font-family="Liberation Serif, serif" font-weight="bold" font-size="7.8" fill="#111" textLength="38.2" lengthAdjust="spacing">INACTIVE</text>
<g font-family="Liberation Serif, serif" fill="#3c3c3c"><text x="23.00" y="192.40" font-size="7.2" >log</text><text x="32.70" y="192.40" font-size="7.2" >[</text><text x="34.60" y="192.40" font-size="7.6000000000000005" font-style="italic">M</text><text x="40.80" y="195.30" font-size="6.2" >*</text><text x="45.40" y="192.40" font-size="7.2" >/</text><text x="47.90" y="192.40" font-size="7.6000000000000005" font-style="italic">M</text><circle cx="55.60" cy="192.70" r="1.5" fill="none" stroke="#3c3c3c" stroke-width="0.45"/><circle cx="55.60" cy="192.70" r="0.4" fill="#3c3c3c"/><text x="57.60" y="192.40" font-size="7.2" >]</text><path d="M62.20,188.95L66.90,190.50L62.20,192.05" fill="none" stroke="#3c3c3c" stroke-width="0.55"/><text x="70.10" y="192.40" font-size="7.2" >10.75</text></g>
<text x="88.5" y="192.4" font-family="Liberation Serif, serif" font-weight="bold" font-size="7.8" fill="#111" textLength="45.6" lengthAdjust="spacing">AGN-HOSTS</text>
<g font-family="Liberation Serif, serif" fill="#3c3c3c"><text x="214.00" y="192.40" font-size="7.2" >log</text><text x="223.70" y="192.40" font-size="7.2" >[</text><text x="225.60" y="192.40" font-size="7.6000000000000005" font-style="italic">M</text><text x="231.80" y="195.30" font-size="6.2" >*</text><text x="236.40" y="192.40" font-size="7.2" >/</text><text x="238.90" y="192.40" font-size="7.6000000000000005" font-style="italic">M</text><circle cx="246.60" cy="192.70" r="1.5" fill="none" stroke="#3c3c3c" stroke-width="0.45"/><circle cx="246.60" cy="192.70" r="0.4" fill="#3c3c3c"/><text x="248.60" y="192.40" font-size="7.2" >]</text><path d="M253.20,188.95L257.90,190.50L253.20,192.05" fill="none" stroke="#3c3c3c" stroke-width="0.55"/><text x="261.10" y="192.40" font-size="7.2" >10.75</text></g>
<text x="279.5" y="192.4" font-family="Liberation Serif, serif" font-weight="bold" font-size="7.8" fill="#111" textLength="38.2" lengthAdjust="spacing">INACTIVE</text>
</svg>
</body></html>
